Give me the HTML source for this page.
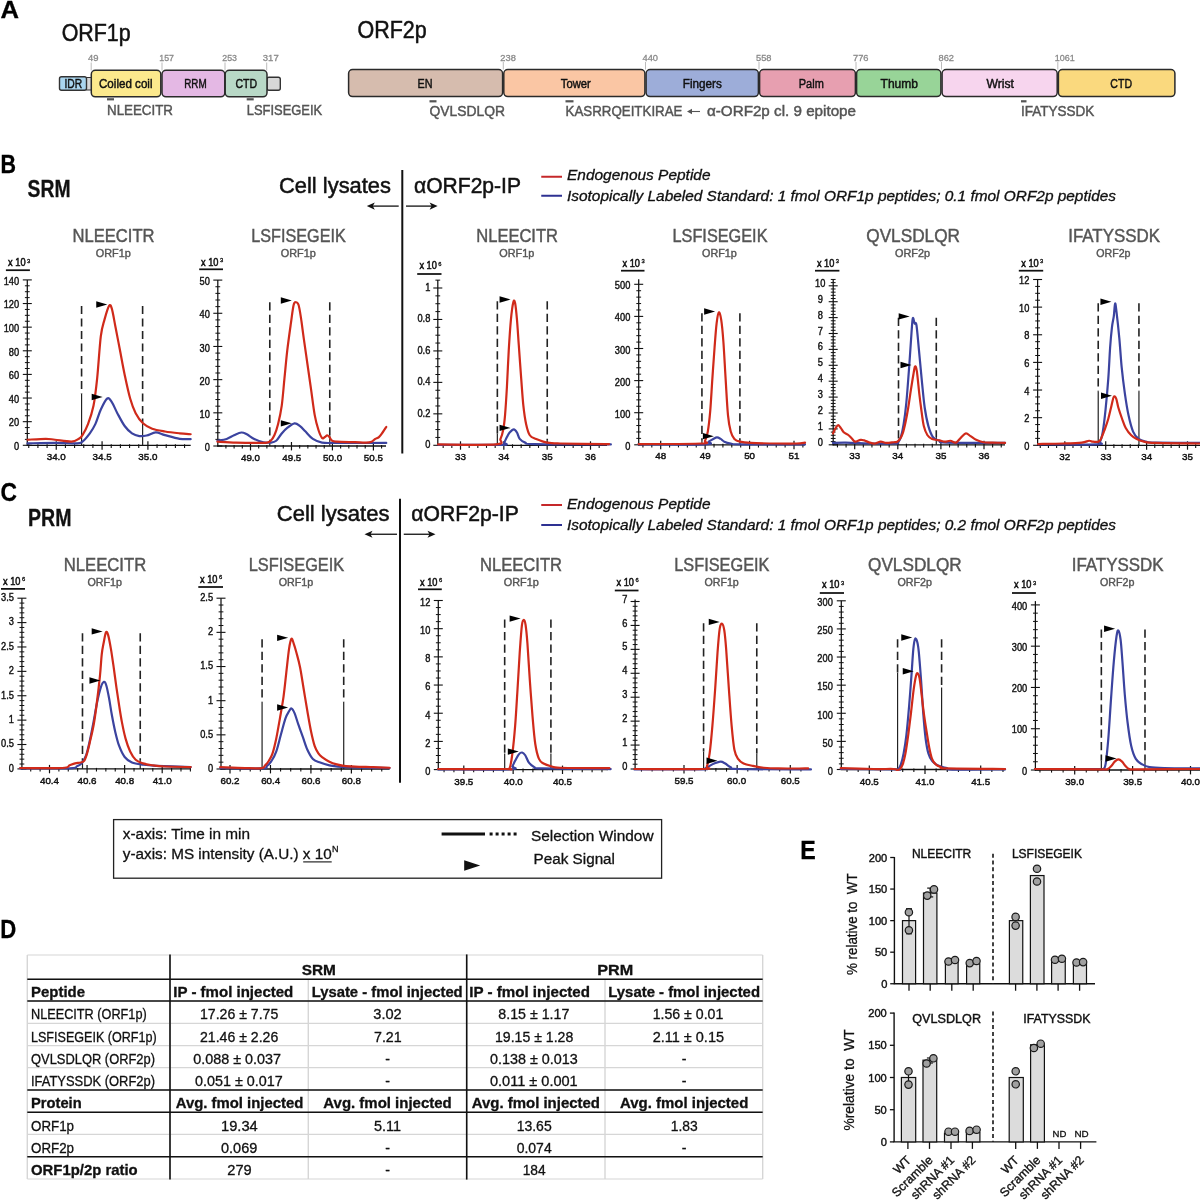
<!DOCTYPE html>
<html><head><meta charset="utf-8"><title>Figure</title>
<style>
html,body{margin:0;padding:0;background:#fff;}
svg{display:block;font-family:"Liberation Sans", sans-serif;will-change:transform;}
</style></head><body>
<svg width="1200" height="1200" viewBox="0 0 1200 1200">
<rect width="1200" height="1200" fill="#fff"/>
<text x="0.50" y="17.50" font-size="24.5" fill="#000" stroke="#000" stroke-width="0.3" font-weight="bold" textLength="18.50" lengthAdjust="spacingAndGlyphs">A</text>
<text x="61.70" y="40.80" font-size="23" fill="#111" stroke="#111" stroke-width="0.5" textLength="69.00" lengthAdjust="spacingAndGlyphs">ORF1p</text>
<text x="357.50" y="38.30" font-size="23" fill="#111" stroke="#111" stroke-width="0.5" textLength="69.20" lengthAdjust="spacingAndGlyphs">ORF2p</text>
<rect x="86.00" y="77.50" width="6.00" height="12.50" fill="#d8d8d8" stroke="#333" stroke-width="1.2" rx="1"/>
<rect x="59.50" y="76.80" width="27.00" height="13.50" fill="#a9d5ee" stroke="#333" stroke-width="1.4" rx="2"/>
<rect x="267.00" y="77.30" width="13.30" height="13.00" fill="#d8d8d8" stroke="#333" stroke-width="1.4" rx="2"/>
<rect x="91.30" y="70.30" width="69.50" height="26.50" fill="#fce98d" stroke="#2a2a2a" stroke-width="1.5" rx="4"/>
<rect x="162.00" y="70.30" width="62.80" height="26.50" fill="#e4b8e4" stroke="#2a2a2a" stroke-width="1.5" rx="4"/>
<rect x="225.20" y="70.30" width="41.80" height="26.50" fill="#b8d8c6" stroke="#2a2a2a" stroke-width="1.5" rx="4"/>
<text x="64.50" y="88.00" font-size="12.3" fill="#111" stroke="#111" stroke-width="0.45" textLength="17.70" lengthAdjust="spacingAndGlyphs">IDR</text>
<text x="99.00" y="88.00" font-size="12.3" fill="#111" stroke="#111" stroke-width="0.45" textLength="53.50" lengthAdjust="spacingAndGlyphs">Coiled coil</text>
<text x="184.20" y="87.60" font-size="12.3" fill="#111" stroke="#111" stroke-width="0.45" textLength="22.50" lengthAdjust="spacingAndGlyphs">RRM</text>
<text x="235.50" y="87.60" font-size="12.3" fill="#111" stroke="#111" stroke-width="0.45" textLength="21.70" lengthAdjust="spacingAndGlyphs">CTD</text>
<line x1="91.20" y1="62.50" x2="91.20" y2="70.50" stroke="#aaa" stroke-width="0.8"/>
<text x="88.00" y="60.80" font-size="9.3" fill="#8a8a8a" stroke="#8a8a8a" stroke-width="0.3" textLength="10.50" lengthAdjust="spacingAndGlyphs">49</text>
<line x1="162.00" y1="62.50" x2="162.00" y2="70.50" stroke="#aaa" stroke-width="0.8"/>
<text x="159.30" y="60.80" font-size="9.3" fill="#8a8a8a" stroke="#8a8a8a" stroke-width="0.3" textLength="14.70" lengthAdjust="spacingAndGlyphs">157</text>
<line x1="225.00" y1="62.50" x2="225.00" y2="70.50" stroke="#aaa" stroke-width="0.8"/>
<text x="222.30" y="60.80" font-size="9.3" fill="#8a8a8a" stroke="#8a8a8a" stroke-width="0.3" textLength="14.70" lengthAdjust="spacingAndGlyphs">253</text>
<line x1="266.70" y1="62.50" x2="266.70" y2="70.50" stroke="#aaa" stroke-width="0.8"/>
<text x="262.80" y="60.80" font-size="9.3" fill="#8a8a8a" stroke="#8a8a8a" stroke-width="0.3" textLength="15.90" lengthAdjust="spacingAndGlyphs">317</text>
<rect x="348.60" y="69.60" width="154.00" height="27.00" fill="#d6bcae" stroke="#2a2a2a" stroke-width="1.5" rx="4"/>
<text x="425.00" y="87.80" font-size="12.3" fill="#111" stroke="#111" stroke-width="0.45" text-anchor="middle" textLength="15.00" lengthAdjust="spacingAndGlyphs">EN</text>
<rect x="503.80" y="69.60" width="141.10" height="27.00" fill="#fac6a4" stroke="#2a2a2a" stroke-width="1.5" rx="4"/>
<text x="575.80" y="87.80" font-size="12.3" fill="#111" stroke="#111" stroke-width="0.45" text-anchor="middle" textLength="30.00" lengthAdjust="spacingAndGlyphs">Tower</text>
<rect x="646.10" y="69.60" width="112.30" height="27.00" fill="#9dadd9" stroke="#2a2a2a" stroke-width="1.5" rx="4"/>
<text x="702.30" y="87.80" font-size="12.3" fill="#111" stroke="#111" stroke-width="0.45" text-anchor="middle" textLength="39.00" lengthAdjust="spacingAndGlyphs">Fingers</text>
<rect x="759.60" y="69.60" width="95.80" height="27.00" fill="#e79fb0" stroke="#2a2a2a" stroke-width="1.5" rx="4"/>
<text x="811.30" y="87.80" font-size="12.3" fill="#111" stroke="#111" stroke-width="0.45" text-anchor="middle" textLength="25.00" lengthAdjust="spacingAndGlyphs">Palm</text>
<rect x="856.60" y="69.60" width="84.30" height="27.00" fill="#98d498" stroke="#2a2a2a" stroke-width="1.5" rx="4"/>
<text x="899.30" y="87.80" font-size="12.3" fill="#111" stroke="#111" stroke-width="0.45" text-anchor="middle" textLength="37.50" lengthAdjust="spacingAndGlyphs">Thumb</text>
<rect x="942.10" y="69.60" width="115.10" height="27.00" fill="#f7d5ee" stroke="#2a2a2a" stroke-width="1.5" rx="4"/>
<text x="1000.20" y="87.80" font-size="12.3" fill="#111" stroke="#111" stroke-width="0.45" text-anchor="middle" textLength="27.50" lengthAdjust="spacingAndGlyphs">Wrist</text>
<rect x="1058.40" y="69.60" width="116.50" height="27.00" fill="#fad97e" stroke="#2a2a2a" stroke-width="1.5" rx="4"/>
<text x="1121.20" y="87.80" font-size="12.3" fill="#111" stroke="#111" stroke-width="0.45" text-anchor="middle" textLength="21.70" lengthAdjust="spacingAndGlyphs">CTD</text>
<line x1="503.30" y1="62.00" x2="503.30" y2="69.60" stroke="#aaa" stroke-width="0.8"/>
<text x="500.30" y="60.80" font-size="9.3" fill="#8a8a8a" stroke="#8a8a8a" stroke-width="0.3" textLength="15.50" lengthAdjust="spacingAndGlyphs">238</text>
<line x1="645.50" y1="62.00" x2="645.50" y2="69.60" stroke="#aaa" stroke-width="0.8"/>
<text x="642.50" y="60.80" font-size="9.3" fill="#8a8a8a" stroke="#8a8a8a" stroke-width="0.3" textLength="15.50" lengthAdjust="spacingAndGlyphs">440</text>
<line x1="759.00" y1="62.00" x2="759.00" y2="69.60" stroke="#aaa" stroke-width="0.8"/>
<text x="756.00" y="60.80" font-size="9.3" fill="#8a8a8a" stroke="#8a8a8a" stroke-width="0.3" textLength="15.50" lengthAdjust="spacingAndGlyphs">558</text>
<line x1="856.00" y1="62.00" x2="856.00" y2="69.60" stroke="#aaa" stroke-width="0.8"/>
<text x="853.00" y="60.80" font-size="9.3" fill="#8a8a8a" stroke="#8a8a8a" stroke-width="0.3" textLength="15.50" lengthAdjust="spacingAndGlyphs">776</text>
<line x1="941.50" y1="62.00" x2="941.50" y2="69.60" stroke="#aaa" stroke-width="0.8"/>
<text x="938.50" y="60.80" font-size="9.3" fill="#8a8a8a" stroke="#8a8a8a" stroke-width="0.3" textLength="15.50" lengthAdjust="spacingAndGlyphs">862</text>
<line x1="1057.80" y1="62.00" x2="1057.80" y2="69.60" stroke="#aaa" stroke-width="0.8"/>
<text x="1054.80" y="60.80" font-size="9.3" fill="#8a8a8a" stroke="#8a8a8a" stroke-width="0.3" textLength="20.00" lengthAdjust="spacingAndGlyphs">1061</text>
<rect x="107.00" y="98.20" width="7.00" height="2.20" fill="#555" stroke="none" stroke-width="0" rx="0"/>
<text x="107.00" y="114.50" font-size="14.5" fill="#555" stroke="#555" stroke-width="0.45" textLength="66.00" lengthAdjust="spacingAndGlyphs">NLEECITR</text>
<rect x="246.70" y="98.20" width="7.00" height="2.20" fill="#555" stroke="none" stroke-width="0" rx="0"/>
<text x="246.70" y="114.50" font-size="14.5" fill="#555" stroke="#555" stroke-width="0.45" textLength="75.50" lengthAdjust="spacingAndGlyphs">LSFISEGEIK</text>
<rect x="429.50" y="100.20" width="7.00" height="2.20" fill="#555" stroke="none" stroke-width="0" rx="0"/>
<text x="429.50" y="116.30" font-size="14.5" fill="#555" stroke="#555" stroke-width="0.45" textLength="75.50" lengthAdjust="spacingAndGlyphs">QVLSDLQR</text>
<rect x="565.50" y="100.20" width="8.00" height="2.20" fill="#555" stroke="none" stroke-width="0" rx="0"/>
<text x="565.50" y="116.30" font-size="14.5" fill="#555" stroke="#555" stroke-width="0.45" textLength="117.00" lengthAdjust="spacingAndGlyphs">KASRRQEITKIRAE</text>
<rect x="1021.00" y="100.20" width="5.50" height="2.20" fill="#555" stroke="none" stroke-width="0" rx="0"/>
<text x="1021.00" y="116.30" font-size="14.5" fill="#555" stroke="#555" stroke-width="0.45" textLength="73.40" lengthAdjust="spacingAndGlyphs">IFATYSSDK</text>
<line x1="689.00" y1="111.50" x2="700.00" y2="111.50" stroke="#555" stroke-width="1.1"/>
<path d="M687 111.5 L692 108.8 L692 114.2 Z" fill="#555" stroke="none" stroke-width="1"/>
<text x="707.00" y="116.30" font-size="14.5" fill="#555" stroke="#555" stroke-width="0.45" textLength="149.00" lengthAdjust="spacingAndGlyphs">α-ORF2p cl. 9 epitope</text>
<text x="0.50" y="172.50" font-size="25" fill="#000" stroke="#000" stroke-width="0.3" font-weight="bold" textLength="15.50" lengthAdjust="spacingAndGlyphs">B</text>
<text x="27.50" y="197.00" font-size="24" fill="#111" stroke="#111" stroke-width="0.3" font-weight="bold" textLength="43.00" lengthAdjust="spacingAndGlyphs">SRM</text>
<text x="279.00" y="192.60" font-size="21.5" fill="#111" stroke="#111" stroke-width="0.5" textLength="112.00" lengthAdjust="spacingAndGlyphs">Cell lysates</text>
<text x="414.00" y="192.60" font-size="21.5" fill="#111" stroke="#111" stroke-width="0.5" textLength="107.00" lengthAdjust="spacingAndGlyphs">αORF2p-IP</text>
<line x1="402.30" y1="170.00" x2="402.30" y2="453.60" stroke="#111" stroke-width="2.0"/>
<line x1="369.80" y1="206.10" x2="398.70" y2="206.10" stroke="#111" stroke-width="1.3"/>
<path d="M366.80 206.10 L374.80 202.50 L372.80 206.10 L374.80 209.70 Z" fill="#111" stroke="none" stroke-width="1"/>
<line x1="406.00" y1="206.10" x2="434.60" y2="206.10" stroke="#111" stroke-width="1.3"/>
<path d="M437.60 206.10 L429.60 202.50 L431.60 206.10 L429.60 209.70 Z" fill="#111" stroke="none" stroke-width="1"/>
<line x1="541.25" y1="176.75" x2="562.00" y2="176.75" stroke="#c5282a" stroke-width="2.0"/>
<line x1="541.25" y1="195.75" x2="562.00" y2="195.75" stroke="#2e3192" stroke-width="2.0"/>
<text x="567.00" y="180.25" font-size="14" fill="#111" stroke="#111" stroke-width="0.3" font-style="italic" textLength="143.50" lengthAdjust="spacingAndGlyphs">Endogenous Peptide</text>
<text x="567.00" y="200.50" font-size="14" fill="#111" stroke="#111" stroke-width="0.3" font-style="italic" textLength="549.00" lengthAdjust="spacingAndGlyphs">Isotopically Labeled Standard: 1 fmol ORF1p peptides; 0.1 fmol ORF2p peptides</text>
<text x="0.50" y="500.50" font-size="25" fill="#000" stroke="#000" stroke-width="0.3" font-weight="bold" textLength="16.50" lengthAdjust="spacingAndGlyphs">C</text>
<text x="28.00" y="525.50" font-size="24" fill="#111" stroke="#111" stroke-width="0.3" font-weight="bold" textLength="43.50" lengthAdjust="spacingAndGlyphs">PRM</text>
<text x="276.75" y="521.25" font-size="21.5" fill="#111" stroke="#111" stroke-width="0.5" textLength="112.75" lengthAdjust="spacingAndGlyphs">Cell lysates</text>
<text x="411.25" y="521.25" font-size="21.5" fill="#111" stroke="#111" stroke-width="0.5" textLength="107.50" lengthAdjust="spacingAndGlyphs">αORF2p-IP</text>
<line x1="400.00" y1="498.75" x2="400.00" y2="782.80" stroke="#111" stroke-width="2.0"/>
<line x1="367.50" y1="534.25" x2="397.00" y2="534.25" stroke="#111" stroke-width="1.3"/>
<path d="M364.50 534.25 L372.50 530.65 L370.50 534.25 L372.50 537.85 Z" fill="#111" stroke="none" stroke-width="1"/>
<line x1="403.75" y1="534.25" x2="432.50" y2="534.25" stroke="#111" stroke-width="1.3"/>
<path d="M435.50 534.25 L427.50 530.65 L429.50 534.25 L427.50 537.85 Z" fill="#111" stroke="none" stroke-width="1"/>
<line x1="541.25" y1="505.00" x2="562.00" y2="505.00" stroke="#c5282a" stroke-width="2.0"/>
<line x1="541.25" y1="525.00" x2="562.00" y2="525.00" stroke="#2e3192" stroke-width="2.0"/>
<text x="567.00" y="508.50" font-size="14" fill="#111" stroke="#111" stroke-width="0.3" font-style="italic" textLength="143.50" lengthAdjust="spacingAndGlyphs">Endogenous Peptide</text>
<text x="567.00" y="529.75" font-size="14" fill="#111" stroke="#111" stroke-width="0.3" font-style="italic" textLength="549.00" lengthAdjust="spacingAndGlyphs">Isotopically Labeled Standard: 1 fmol ORF1p peptides; 0.2 fmol ORF2p peptides</text>
<text x="72.50" y="242.00" font-size="18.5" fill="#555" stroke="#555" stroke-width="0.45" textLength="82.00" lengthAdjust="spacingAndGlyphs">NLEECITR</text>
<text x="95.75" y="257.00" font-size="10.6" fill="#555" stroke="#555" stroke-width="0.4" textLength="35.00" lengthAdjust="spacingAndGlyphs">ORF1p</text>
<text x="8.10" y="266.30" font-size="10.2" fill="#111" stroke="#111" stroke-width="0.5" textLength="17.50" lengthAdjust="spacingAndGlyphs">x 10</text>
<text x="27.00" y="262.70" font-size="5.8" fill="#111" stroke="#111" stroke-width="0.3">3</text>
<line x1="5.90" y1="270.20" x2="29.90" y2="270.20" stroke="#111" stroke-width="1.75"/>
<line x1="27.30" y1="279.90" x2="27.30" y2="445.80" stroke="#111" stroke-width="1.25"/>
<line x1="22.80" y1="445.30" x2="31.80" y2="445.30" stroke="#111" stroke-width="1.1"/>
<line x1="24.90" y1="439.39" x2="29.70" y2="439.39" stroke="#111" stroke-width="1.0"/>
<line x1="24.90" y1="433.49" x2="29.70" y2="433.49" stroke="#111" stroke-width="1.0"/>
<line x1="24.90" y1="427.58" x2="29.70" y2="427.58" stroke="#111" stroke-width="1.0"/>
<line x1="22.80" y1="421.67" x2="31.80" y2="421.67" stroke="#111" stroke-width="1.1"/>
<line x1="24.90" y1="415.76" x2="29.70" y2="415.76" stroke="#111" stroke-width="1.0"/>
<line x1="24.90" y1="409.86" x2="29.70" y2="409.86" stroke="#111" stroke-width="1.0"/>
<line x1="24.90" y1="403.95" x2="29.70" y2="403.95" stroke="#111" stroke-width="1.0"/>
<line x1="22.80" y1="398.04" x2="31.80" y2="398.04" stroke="#111" stroke-width="1.1"/>
<line x1="24.90" y1="392.14" x2="29.70" y2="392.14" stroke="#111" stroke-width="1.0"/>
<line x1="24.90" y1="386.23" x2="29.70" y2="386.23" stroke="#111" stroke-width="1.0"/>
<line x1="24.90" y1="380.32" x2="29.70" y2="380.32" stroke="#111" stroke-width="1.0"/>
<line x1="22.80" y1="374.41" x2="31.80" y2="374.41" stroke="#111" stroke-width="1.1"/>
<line x1="24.90" y1="368.51" x2="29.70" y2="368.51" stroke="#111" stroke-width="1.0"/>
<line x1="24.90" y1="362.60" x2="29.70" y2="362.60" stroke="#111" stroke-width="1.0"/>
<line x1="24.90" y1="356.69" x2="29.70" y2="356.69" stroke="#111" stroke-width="1.0"/>
<line x1="22.80" y1="350.79" x2="31.80" y2="350.79" stroke="#111" stroke-width="1.1"/>
<line x1="24.90" y1="344.88" x2="29.70" y2="344.88" stroke="#111" stroke-width="1.0"/>
<line x1="24.90" y1="338.97" x2="29.70" y2="338.97" stroke="#111" stroke-width="1.0"/>
<line x1="24.90" y1="333.06" x2="29.70" y2="333.06" stroke="#111" stroke-width="1.0"/>
<line x1="22.80" y1="327.16" x2="31.80" y2="327.16" stroke="#111" stroke-width="1.1"/>
<line x1="24.90" y1="321.25" x2="29.70" y2="321.25" stroke="#111" stroke-width="1.0"/>
<line x1="24.90" y1="315.34" x2="29.70" y2="315.34" stroke="#111" stroke-width="1.0"/>
<line x1="24.90" y1="309.44" x2="29.70" y2="309.44" stroke="#111" stroke-width="1.0"/>
<line x1="22.80" y1="303.53" x2="31.80" y2="303.53" stroke="#111" stroke-width="1.1"/>
<line x1="24.90" y1="297.62" x2="29.70" y2="297.62" stroke="#111" stroke-width="1.0"/>
<line x1="24.90" y1="291.71" x2="29.70" y2="291.71" stroke="#111" stroke-width="1.0"/>
<line x1="24.90" y1="285.81" x2="29.70" y2="285.81" stroke="#111" stroke-width="1.0"/>
<line x1="22.80" y1="279.90" x2="31.80" y2="279.90" stroke="#111" stroke-width="1.1"/>
<text x="19.10" y="450.10" font-size="10.3" fill="#111" stroke="#111" stroke-width="0.4" text-anchor="end" textLength="5.15" lengthAdjust="spacingAndGlyphs">0</text>
<text x="19.10" y="426.47" font-size="10.3" fill="#111" stroke="#111" stroke-width="0.4" text-anchor="end" textLength="10.31" lengthAdjust="spacingAndGlyphs">20</text>
<text x="19.10" y="402.84" font-size="10.3" fill="#111" stroke="#111" stroke-width="0.4" text-anchor="end" textLength="10.31" lengthAdjust="spacingAndGlyphs">40</text>
<text x="19.10" y="379.21" font-size="10.3" fill="#111" stroke="#111" stroke-width="0.4" text-anchor="end" textLength="10.31" lengthAdjust="spacingAndGlyphs">60</text>
<text x="19.10" y="355.59" font-size="10.3" fill="#111" stroke="#111" stroke-width="0.4" text-anchor="end" textLength="10.31" lengthAdjust="spacingAndGlyphs">80</text>
<text x="19.10" y="331.96" font-size="10.3" fill="#111" stroke="#111" stroke-width="0.4" text-anchor="end" textLength="15.46" lengthAdjust="spacingAndGlyphs">100</text>
<text x="19.10" y="308.33" font-size="10.3" fill="#111" stroke="#111" stroke-width="0.4" text-anchor="end" textLength="15.46" lengthAdjust="spacingAndGlyphs">120</text>
<text x="19.10" y="284.70" font-size="10.3" fill="#111" stroke="#111" stroke-width="0.4" text-anchor="end" textLength="15.46" lengthAdjust="spacingAndGlyphs">140</text>
<line x1="26.70" y1="445.30" x2="190.70" y2="445.30" stroke="#111" stroke-width="1.3"/>
<line x1="28.75" y1="444.30" x2="28.75" y2="447.90" stroke="#111" stroke-width="1.1"/>
<line x1="37.92" y1="444.30" x2="37.92" y2="447.90" stroke="#111" stroke-width="1.1"/>
<line x1="47.09" y1="444.30" x2="47.09" y2="447.90" stroke="#111" stroke-width="1.1"/>
<line x1="56.25" y1="441.30" x2="56.25" y2="449.70" stroke="#111" stroke-width="1.2"/>
<line x1="65.42" y1="444.30" x2="65.42" y2="447.90" stroke="#111" stroke-width="1.1"/>
<line x1="74.58" y1="444.30" x2="74.58" y2="447.90" stroke="#111" stroke-width="1.1"/>
<line x1="83.75" y1="444.30" x2="83.75" y2="447.90" stroke="#111" stroke-width="1.1"/>
<line x1="92.91" y1="444.30" x2="92.91" y2="447.90" stroke="#111" stroke-width="1.1"/>
<line x1="102.08" y1="441.30" x2="102.08" y2="449.70" stroke="#111" stroke-width="1.2"/>
<line x1="111.24" y1="444.30" x2="111.24" y2="447.90" stroke="#111" stroke-width="1.1"/>
<line x1="120.41" y1="444.30" x2="120.41" y2="447.90" stroke="#111" stroke-width="1.1"/>
<line x1="129.57" y1="444.30" x2="129.57" y2="447.90" stroke="#111" stroke-width="1.1"/>
<line x1="138.74" y1="444.30" x2="138.74" y2="447.90" stroke="#111" stroke-width="1.1"/>
<line x1="147.90" y1="441.30" x2="147.90" y2="449.70" stroke="#111" stroke-width="1.2"/>
<line x1="157.06" y1="444.30" x2="157.06" y2="447.90" stroke="#111" stroke-width="1.1"/>
<line x1="166.23" y1="444.30" x2="166.23" y2="447.90" stroke="#111" stroke-width="1.1"/>
<line x1="175.40" y1="444.30" x2="175.40" y2="447.90" stroke="#111" stroke-width="1.1"/>
<line x1="184.56" y1="444.30" x2="184.56" y2="447.90" stroke="#111" stroke-width="1.1"/>
<text x="56.25" y="459.80" font-size="9.8" fill="#111" stroke="#111" stroke-width="0.45" text-anchor="middle">34.0</text>
<text x="102.10" y="459.80" font-size="9.8" fill="#111" stroke="#111" stroke-width="0.45" text-anchor="middle">34.5</text>
<text x="147.90" y="459.80" font-size="9.8" fill="#111" stroke="#111" stroke-width="0.45" text-anchor="middle">35.0</text>
<line x1="81.58" y1="305.91" x2="81.58" y2="393.90" stroke="#222" stroke-width="1.6" stroke-dasharray="8.2 4.3"/>
<line x1="81.58" y1="393.90" x2="81.58" y2="445.30" stroke="#222" stroke-width="1.2"/>
<line x1="142.62" y1="305.91" x2="142.62" y2="422.32" stroke="#222" stroke-width="1.6" stroke-dasharray="8.2 4.3"/>
<line x1="142.62" y1="422.32" x2="142.62" y2="445.30" stroke="#222" stroke-width="1.2"/>
<path d="M27.50 443.40 C32.08 443.31 46.75 442.85 55.00 442.85 C63.24 442.85 72.41 443.61 76.99 443.40 C81.58 443.19 80.35 443.25 82.49 441.57 C84.63 439.89 87.69 436.22 89.83 433.32 C91.96 430.42 93.49 428.12 95.33 424.15 C97.16 420.18 98.84 413.76 100.82 409.49 C102.81 405.21 105.41 399.71 107.24 398.49 C109.07 397.27 110.14 399.71 111.82 402.15 C113.50 404.60 115.18 409.18 117.32 413.15 C119.46 417.12 122.21 422.62 124.66 425.99 C127.10 429.35 129.54 431.64 131.99 433.32 C134.43 435.00 136.88 435.70 139.32 436.07 C141.77 436.43 143.90 436.13 146.65 435.52 C149.40 434.91 152.77 432.46 155.82 432.40 C158.88 432.34 161.01 434.08 164.99 435.15 C168.96 436.22 175.37 438.15 179.65 438.82 C183.93 439.49 188.82 439.12 190.65 439.18" fill="none" stroke="#3b439f" stroke-width="2.2" stroke-linejoin="round" stroke-linecap="round"/>
<path d="M27.50 439.73 C30.55 439.58 41.25 438.82 45.83 438.82 C50.41 438.82 50.72 439.28 55.00 439.73 C59.27 440.19 67.52 441.72 71.49 441.57 C75.47 441.41 76.99 439.89 78.83 438.82 C80.66 437.75 80.97 437.60 82.49 435.15 C84.02 432.71 86.16 429.04 87.99 424.15 C89.83 419.26 91.96 413.46 93.49 405.82 C95.02 398.18 95.94 389.93 97.16 378.32 C98.38 366.71 99.60 345.94 100.82 336.16 C102.05 326.38 103.12 324.70 104.49 319.66 C105.87 314.62 107.85 307.75 109.07 305.91 C110.30 304.08 110.75 305.15 111.82 308.66 C112.89 312.18 114.12 319.97 115.49 326.99 C116.87 334.02 118.55 342.88 120.07 350.82 C121.60 358.77 122.98 366.71 124.66 374.66 C126.34 382.60 128.32 392.07 130.16 398.49 C131.99 404.90 133.52 409.03 135.66 413.15 C137.79 417.28 140.24 420.64 142.99 423.24 C145.74 425.83 148.49 427.36 152.15 428.74 C155.82 430.11 160.40 430.72 164.99 431.48 C169.57 432.25 175.37 432.86 179.65 433.32 C183.93 433.78 188.82 434.08 190.65 434.23" fill="none" stroke="#d02a1a" stroke-width="2.2" stroke-linejoin="round" stroke-linecap="round"/>
<path d="M107.24 304.45 L96.24 301.25 L96.24 307.65 Z" fill="#000" stroke="none" stroke-width="1"/>
<path d="M102.66 397.02 L91.66 393.82 L91.66 400.22 Z" fill="#000" stroke="none" stroke-width="1"/>
<text x="251.25" y="242.00" font-size="18.5" fill="#555" stroke="#555" stroke-width="0.45" textLength="94.50" lengthAdjust="spacingAndGlyphs">LSFISEGEIK</text>
<text x="280.75" y="257.00" font-size="10.6" fill="#555" stroke="#555" stroke-width="0.4" textLength="35.00" lengthAdjust="spacingAndGlyphs">ORF1p</text>
<text x="201.00" y="265.60" font-size="10.2" fill="#111" stroke="#111" stroke-width="0.5" textLength="17.50" lengthAdjust="spacingAndGlyphs">x 10</text>
<text x="219.90" y="262.00" font-size="5.8" fill="#111" stroke="#111" stroke-width="0.3">3</text>
<line x1="199.20" y1="269.30" x2="223.00" y2="269.30" stroke="#111" stroke-width="1.75"/>
<line x1="217.80" y1="280.10" x2="217.80" y2="446.50" stroke="#111" stroke-width="1.25"/>
<line x1="213.30" y1="446.00" x2="222.30" y2="446.00" stroke="#111" stroke-width="1.1"/>
<line x1="215.40" y1="439.36" x2="220.20" y2="439.36" stroke="#111" stroke-width="1.0"/>
<line x1="215.40" y1="432.73" x2="220.20" y2="432.73" stroke="#111" stroke-width="1.0"/>
<line x1="215.40" y1="426.09" x2="220.20" y2="426.09" stroke="#111" stroke-width="1.0"/>
<line x1="215.40" y1="419.46" x2="220.20" y2="419.46" stroke="#111" stroke-width="1.0"/>
<line x1="213.30" y1="412.82" x2="222.30" y2="412.82" stroke="#111" stroke-width="1.1"/>
<line x1="215.40" y1="406.18" x2="220.20" y2="406.18" stroke="#111" stroke-width="1.0"/>
<line x1="215.40" y1="399.55" x2="220.20" y2="399.55" stroke="#111" stroke-width="1.0"/>
<line x1="215.40" y1="392.91" x2="220.20" y2="392.91" stroke="#111" stroke-width="1.0"/>
<line x1="215.40" y1="386.28" x2="220.20" y2="386.28" stroke="#111" stroke-width="1.0"/>
<line x1="213.30" y1="379.64" x2="222.30" y2="379.64" stroke="#111" stroke-width="1.1"/>
<line x1="215.40" y1="373.00" x2="220.20" y2="373.00" stroke="#111" stroke-width="1.0"/>
<line x1="215.40" y1="366.37" x2="220.20" y2="366.37" stroke="#111" stroke-width="1.0"/>
<line x1="215.40" y1="359.73" x2="220.20" y2="359.73" stroke="#111" stroke-width="1.0"/>
<line x1="215.40" y1="353.10" x2="220.20" y2="353.10" stroke="#111" stroke-width="1.0"/>
<line x1="213.30" y1="346.46" x2="222.30" y2="346.46" stroke="#111" stroke-width="1.1"/>
<line x1="215.40" y1="339.82" x2="220.20" y2="339.82" stroke="#111" stroke-width="1.0"/>
<line x1="215.40" y1="333.19" x2="220.20" y2="333.19" stroke="#111" stroke-width="1.0"/>
<line x1="215.40" y1="326.55" x2="220.20" y2="326.55" stroke="#111" stroke-width="1.0"/>
<line x1="215.40" y1="319.92" x2="220.20" y2="319.92" stroke="#111" stroke-width="1.0"/>
<line x1="213.30" y1="313.28" x2="222.30" y2="313.28" stroke="#111" stroke-width="1.1"/>
<line x1="215.40" y1="306.64" x2="220.20" y2="306.64" stroke="#111" stroke-width="1.0"/>
<line x1="215.40" y1="300.01" x2="220.20" y2="300.01" stroke="#111" stroke-width="1.0"/>
<line x1="215.40" y1="293.37" x2="220.20" y2="293.37" stroke="#111" stroke-width="1.0"/>
<line x1="215.40" y1="286.74" x2="220.20" y2="286.74" stroke="#111" stroke-width="1.0"/>
<line x1="213.30" y1="280.10" x2="222.30" y2="280.10" stroke="#111" stroke-width="1.1"/>
<text x="209.80" y="451.20" font-size="10.3" fill="#111" stroke="#111" stroke-width="0.4" text-anchor="end" textLength="5.15" lengthAdjust="spacingAndGlyphs">0</text>
<text x="209.80" y="418.02" font-size="10.3" fill="#111" stroke="#111" stroke-width="0.4" text-anchor="end" textLength="10.31" lengthAdjust="spacingAndGlyphs">10</text>
<text x="209.80" y="384.84" font-size="10.3" fill="#111" stroke="#111" stroke-width="0.4" text-anchor="end" textLength="10.31" lengthAdjust="spacingAndGlyphs">20</text>
<text x="209.80" y="351.66" font-size="10.3" fill="#111" stroke="#111" stroke-width="0.4" text-anchor="end" textLength="10.31" lengthAdjust="spacingAndGlyphs">30</text>
<text x="209.80" y="318.48" font-size="10.3" fill="#111" stroke="#111" stroke-width="0.4" text-anchor="end" textLength="10.31" lengthAdjust="spacingAndGlyphs">40</text>
<text x="209.80" y="285.30" font-size="10.3" fill="#111" stroke="#111" stroke-width="0.4" text-anchor="end" textLength="10.31" lengthAdjust="spacingAndGlyphs">50</text>
<line x1="217.20" y1="446.00" x2="386.00" y2="446.00" stroke="#111" stroke-width="1.3"/>
<line x1="225.92" y1="445.00" x2="225.92" y2="448.60" stroke="#111" stroke-width="1.1"/>
<line x1="234.11" y1="445.00" x2="234.11" y2="448.60" stroke="#111" stroke-width="1.1"/>
<line x1="242.31" y1="445.00" x2="242.31" y2="448.60" stroke="#111" stroke-width="1.1"/>
<line x1="250.50" y1="442.00" x2="250.50" y2="450.40" stroke="#111" stroke-width="1.2"/>
<line x1="258.69" y1="445.00" x2="258.69" y2="448.60" stroke="#111" stroke-width="1.1"/>
<line x1="266.89" y1="445.00" x2="266.89" y2="448.60" stroke="#111" stroke-width="1.1"/>
<line x1="275.08" y1="445.00" x2="275.08" y2="448.60" stroke="#111" stroke-width="1.1"/>
<line x1="283.27" y1="445.00" x2="283.27" y2="448.60" stroke="#111" stroke-width="1.1"/>
<line x1="291.47" y1="442.00" x2="291.47" y2="450.40" stroke="#111" stroke-width="1.2"/>
<line x1="299.66" y1="445.00" x2="299.66" y2="448.60" stroke="#111" stroke-width="1.1"/>
<line x1="307.85" y1="445.00" x2="307.85" y2="448.60" stroke="#111" stroke-width="1.1"/>
<line x1="316.05" y1="445.00" x2="316.05" y2="448.60" stroke="#111" stroke-width="1.1"/>
<line x1="324.24" y1="445.00" x2="324.24" y2="448.60" stroke="#111" stroke-width="1.1"/>
<line x1="332.43" y1="442.00" x2="332.43" y2="450.40" stroke="#111" stroke-width="1.2"/>
<line x1="340.63" y1="445.00" x2="340.63" y2="448.60" stroke="#111" stroke-width="1.1"/>
<line x1="348.82" y1="445.00" x2="348.82" y2="448.60" stroke="#111" stroke-width="1.1"/>
<line x1="357.01" y1="445.00" x2="357.01" y2="448.60" stroke="#111" stroke-width="1.1"/>
<line x1="365.21" y1="445.00" x2="365.21" y2="448.60" stroke="#111" stroke-width="1.1"/>
<line x1="373.40" y1="442.00" x2="373.40" y2="450.40" stroke="#111" stroke-width="1.2"/>
<line x1="381.59" y1="445.00" x2="381.59" y2="448.60" stroke="#111" stroke-width="1.1"/>
<text x="250.50" y="460.50" font-size="9.8" fill="#111" stroke="#111" stroke-width="0.45" text-anchor="middle">49.0</text>
<text x="291.80" y="460.50" font-size="9.8" fill="#111" stroke="#111" stroke-width="0.45" text-anchor="middle">49.5</text>
<text x="332.60" y="460.50" font-size="9.8" fill="#111" stroke="#111" stroke-width="0.45" text-anchor="middle">50.0</text>
<text x="373.40" y="460.50" font-size="9.8" fill="#111" stroke="#111" stroke-width="0.45" text-anchor="middle">50.5</text>
<line x1="269.79" y1="302.27" x2="269.79" y2="440.76" stroke="#222" stroke-width="1.6" stroke-dasharray="8.2 4.3"/>
<line x1="269.79" y1="440.76" x2="269.79" y2="446.00" stroke="#222" stroke-width="1.2"/>
<line x1="329.77" y1="302.27" x2="329.77" y2="435.25" stroke="#222" stroke-width="1.6" stroke-dasharray="8.2 4.3"/>
<line x1="329.77" y1="435.25" x2="329.77" y2="446.00" stroke="#222" stroke-width="1.2"/>
<path d="M217.51 440.76 C219.04 440.45 223.93 439.84 226.68 438.92 C229.44 438.00 231.57 436.32 234.02 435.25 C236.47 434.18 239.22 432.65 241.36 432.50 C243.50 432.35 244.72 433.27 246.86 434.34 C249.00 435.41 251.45 437.61 254.20 438.92 C256.95 440.24 260.62 441.61 263.37 442.22 C266.12 442.83 268.56 442.83 270.70 442.59 C272.84 442.35 274.37 442.28 276.21 440.76 C278.04 439.23 279.88 435.56 281.71 433.42 C283.54 431.28 285.07 429.60 287.21 427.92 C289.35 426.24 292.41 423.64 294.55 423.33 C296.69 423.03 298.22 424.71 300.05 426.08 C301.89 427.46 303.41 429.44 305.55 431.58 C307.69 433.72 310.14 437.09 312.89 438.92 C315.64 440.76 318.09 441.92 322.06 442.59 C326.04 443.26 326.04 442.90 336.74 442.96 C347.43 443.02 378.00 442.96 386.26 442.96" fill="none" stroke="#3b439f" stroke-width="2.2" stroke-linejoin="round" stroke-linecap="round"/>
<path d="M217.51 441.67 C220.57 441.83 229.74 442.38 235.85 442.59 C241.97 442.80 249.00 442.96 254.20 442.96 C259.39 442.96 264.28 442.96 267.04 442.59 C269.79 442.22 269.48 441.98 270.70 440.76 C271.93 439.53 273.15 438.00 274.37 435.25 C275.60 432.50 276.82 429.14 278.04 424.25 C279.26 419.36 280.64 413.55 281.71 405.91 C282.78 398.26 283.54 387.56 284.46 378.39 C285.38 369.22 286.14 360.05 287.21 350.88 C288.28 341.71 289.81 331.01 290.88 323.37 C291.95 315.73 292.78 308.54 293.63 305.03 C294.49 301.51 295.19 302.27 296.02 302.27 C296.84 302.27 297.76 302.43 298.58 305.03 C299.41 307.62 300.11 312.36 300.97 317.87 C301.82 323.37 302.65 330.40 303.72 338.04 C304.79 345.68 306.17 355.16 307.39 363.72 C308.61 372.28 309.83 380.84 311.06 389.40 C312.28 397.96 313.50 408.35 314.72 415.08 C315.95 421.80 317.17 425.93 318.39 429.75 C319.62 433.57 320.99 436.78 322.06 438.00 C323.13 439.23 323.96 437.55 324.81 437.09 C325.67 436.63 326.43 435.25 327.20 435.25 C327.96 435.25 328.57 436.17 329.40 437.09 C330.22 438.00 330.93 439.99 332.15 440.76 C333.37 441.52 332.91 441.43 336.74 441.67 C340.56 441.92 350.19 442.07 355.08 442.22 C359.97 442.38 363.33 442.68 366.08 442.59 C368.83 442.50 370.06 442.28 371.58 441.67 C373.11 441.06 374.03 439.69 375.25 438.92 C376.48 438.16 377.70 438.16 378.92 437.09 C380.14 436.02 381.37 434.18 382.59 432.50 C383.81 430.82 385.65 427.92 386.26 427.00" fill="none" stroke="#d02a1a" stroke-width="2.2" stroke-linejoin="round" stroke-linecap="round"/>
<path d="M291.80 300.44 L280.80 297.24 L280.80 303.64 Z" fill="#000" stroke="none" stroke-width="1"/>
<path d="M291.80 423.33 L280.80 420.13 L280.80 426.53 Z" fill="#000" stroke="none" stroke-width="1"/>
<text x="476.25" y="242.00" font-size="18.5" fill="#555" stroke="#555" stroke-width="0.45" textLength="81.75" lengthAdjust="spacingAndGlyphs">NLEECITR</text>
<text x="499.25" y="257.00" font-size="10.6" fill="#555" stroke="#555" stroke-width="0.4" textLength="35.00" lengthAdjust="spacingAndGlyphs">ORF1p</text>
<text x="419.40" y="269.30" font-size="10.2" fill="#111" stroke="#111" stroke-width="0.5" textLength="17.50" lengthAdjust="spacingAndGlyphs">x 10</text>
<text x="438.30" y="265.70" font-size="5.8" fill="#111" stroke="#111" stroke-width="0.3">6</text>
<line x1="417.20" y1="274.00" x2="441.50" y2="274.00" stroke="#111" stroke-width="1.75"/>
<line x1="437.80" y1="280.10" x2="437.80" y2="445.80" stroke="#111" stroke-width="1.25"/>
<line x1="433.30" y1="445.30" x2="442.30" y2="445.30" stroke="#111" stroke-width="1.1"/>
<line x1="435.40" y1="437.44" x2="440.20" y2="437.44" stroke="#111" stroke-width="1.0"/>
<line x1="435.40" y1="429.57" x2="440.20" y2="429.57" stroke="#111" stroke-width="1.0"/>
<line x1="435.40" y1="421.70" x2="440.20" y2="421.70" stroke="#111" stroke-width="1.0"/>
<line x1="433.30" y1="413.84" x2="442.30" y2="413.84" stroke="#111" stroke-width="1.1"/>
<line x1="435.40" y1="405.98" x2="440.20" y2="405.98" stroke="#111" stroke-width="1.0"/>
<line x1="435.40" y1="398.11" x2="440.20" y2="398.11" stroke="#111" stroke-width="1.0"/>
<line x1="435.40" y1="390.25" x2="440.20" y2="390.25" stroke="#111" stroke-width="1.0"/>
<line x1="433.30" y1="382.38" x2="442.30" y2="382.38" stroke="#111" stroke-width="1.1"/>
<line x1="435.40" y1="374.51" x2="440.20" y2="374.51" stroke="#111" stroke-width="1.0"/>
<line x1="435.40" y1="366.65" x2="440.20" y2="366.65" stroke="#111" stroke-width="1.0"/>
<line x1="435.40" y1="358.78" x2="440.20" y2="358.78" stroke="#111" stroke-width="1.0"/>
<line x1="433.30" y1="350.92" x2="442.30" y2="350.92" stroke="#111" stroke-width="1.1"/>
<line x1="435.40" y1="343.06" x2="440.20" y2="343.06" stroke="#111" stroke-width="1.0"/>
<line x1="435.40" y1="335.19" x2="440.20" y2="335.19" stroke="#111" stroke-width="1.0"/>
<line x1="435.40" y1="327.32" x2="440.20" y2="327.32" stroke="#111" stroke-width="1.0"/>
<line x1="433.30" y1="319.46" x2="442.30" y2="319.46" stroke="#111" stroke-width="1.1"/>
<line x1="435.40" y1="311.60" x2="440.20" y2="311.60" stroke="#111" stroke-width="1.0"/>
<line x1="435.40" y1="303.73" x2="440.20" y2="303.73" stroke="#111" stroke-width="1.0"/>
<line x1="435.40" y1="295.87" x2="440.20" y2="295.87" stroke="#111" stroke-width="1.0"/>
<line x1="433.30" y1="288.00" x2="442.30" y2="288.00" stroke="#111" stroke-width="1.1"/>
<line x1="435.40" y1="280.13" x2="440.20" y2="280.13" stroke="#111" stroke-width="1.0"/>
<text x="430.30" y="448.30" font-size="10.3" fill="#111" stroke="#111" stroke-width="0.4" text-anchor="end" textLength="5.15" lengthAdjust="spacingAndGlyphs">0</text>
<text x="430.30" y="416.84" font-size="10.3" fill="#111" stroke="#111" stroke-width="0.4" text-anchor="end" textLength="12.89" lengthAdjust="spacingAndGlyphs">0.2</text>
<text x="430.30" y="385.38" font-size="10.3" fill="#111" stroke="#111" stroke-width="0.4" text-anchor="end" textLength="12.89" lengthAdjust="spacingAndGlyphs">0.4</text>
<text x="430.30" y="353.92" font-size="10.3" fill="#111" stroke="#111" stroke-width="0.4" text-anchor="end" textLength="12.89" lengthAdjust="spacingAndGlyphs">0.6</text>
<text x="430.30" y="322.46" font-size="10.3" fill="#111" stroke="#111" stroke-width="0.4" text-anchor="end" textLength="12.89" lengthAdjust="spacingAndGlyphs">0.8</text>
<text x="430.30" y="291.00" font-size="10.3" fill="#111" stroke="#111" stroke-width="0.4" text-anchor="end" textLength="5.15" lengthAdjust="spacingAndGlyphs">1</text>
<line x1="437.20" y1="445.30" x2="607.00" y2="445.30" stroke="#111" stroke-width="1.3"/>
<line x1="443.17" y1="444.30" x2="443.17" y2="447.90" stroke="#111" stroke-width="1.1"/>
<line x1="451.83" y1="444.30" x2="451.83" y2="447.90" stroke="#111" stroke-width="1.1"/>
<line x1="460.50" y1="441.30" x2="460.50" y2="449.70" stroke="#111" stroke-width="1.2"/>
<line x1="469.17" y1="444.30" x2="469.17" y2="447.90" stroke="#111" stroke-width="1.1"/>
<line x1="477.83" y1="444.30" x2="477.83" y2="447.90" stroke="#111" stroke-width="1.1"/>
<line x1="486.50" y1="444.30" x2="486.50" y2="447.90" stroke="#111" stroke-width="1.1"/>
<line x1="495.17" y1="444.30" x2="495.17" y2="447.90" stroke="#111" stroke-width="1.1"/>
<line x1="503.83" y1="441.30" x2="503.83" y2="449.70" stroke="#111" stroke-width="1.2"/>
<line x1="512.50" y1="444.30" x2="512.50" y2="447.90" stroke="#111" stroke-width="1.1"/>
<line x1="521.17" y1="444.30" x2="521.17" y2="447.90" stroke="#111" stroke-width="1.1"/>
<line x1="529.83" y1="444.30" x2="529.83" y2="447.90" stroke="#111" stroke-width="1.1"/>
<line x1="538.50" y1="444.30" x2="538.50" y2="447.90" stroke="#111" stroke-width="1.1"/>
<line x1="547.17" y1="441.30" x2="547.17" y2="449.70" stroke="#111" stroke-width="1.2"/>
<line x1="555.83" y1="444.30" x2="555.83" y2="447.90" stroke="#111" stroke-width="1.1"/>
<line x1="564.50" y1="444.30" x2="564.50" y2="447.90" stroke="#111" stroke-width="1.1"/>
<line x1="573.17" y1="444.30" x2="573.17" y2="447.90" stroke="#111" stroke-width="1.1"/>
<line x1="581.83" y1="444.30" x2="581.83" y2="447.90" stroke="#111" stroke-width="1.1"/>
<line x1="590.50" y1="441.30" x2="590.50" y2="449.70" stroke="#111" stroke-width="1.2"/>
<line x1="599.17" y1="444.30" x2="599.17" y2="447.90" stroke="#111" stroke-width="1.1"/>
<text x="460.50" y="459.80" font-size="9.8" fill="#111" stroke="#111" stroke-width="0.45" text-anchor="middle">33</text>
<text x="503.80" y="459.80" font-size="9.8" fill="#111" stroke="#111" stroke-width="0.45" text-anchor="middle">34</text>
<text x="547.20" y="459.80" font-size="9.8" fill="#111" stroke="#111" stroke-width="0.45" text-anchor="middle">35</text>
<text x="590.50" y="459.80" font-size="9.8" fill="#111" stroke="#111" stroke-width="0.45" text-anchor="middle">36</text>
<line x1="497.35" y1="301.36" x2="497.35" y2="433.42" stroke="#222" stroke-width="1.6" stroke-dasharray="8.2 4.3"/>
<line x1="497.35" y1="433.42" x2="497.35" y2="445.30" stroke="#222" stroke-width="1.2"/>
<line x1="547.24" y1="301.36" x2="547.24" y2="440.76" stroke="#222" stroke-width="1.6" stroke-dasharray="8.2 4.3"/>
<line x1="547.24" y1="440.76" x2="547.24" y2="445.30" stroke="#222" stroke-width="1.2"/>
<path d="M438.10 444.79 C448.65 444.79 490.38 445.16 501.38 444.79 C512.39 444.42 503.22 443.87 504.13 442.59 C505.05 441.31 505.97 438.77 506.89 437.09 C507.80 435.41 508.48 433.79 509.64 432.50 C510.80 431.22 512.63 429.38 513.86 429.38 C515.08 429.38 516.00 430.91 516.97 432.50 C517.95 434.09 518.35 437.24 519.72 438.92 C521.10 440.60 522.78 441.73 525.23 442.59 C527.67 443.45 521.10 443.75 534.40 444.06 C547.70 444.36 592.91 444.36 605.01 444.42 C617.11 444.49 606.67 444.42 607.00 444.42" fill="none" stroke="#3b439f" stroke-width="2.2" stroke-linejoin="round" stroke-linecap="round"/>
<path d="M438.10 444.42 C447.73 444.42 485.49 445.34 495.88 444.42 C506.27 443.51 499.24 441.37 500.47 438.92 C501.69 436.48 502.45 433.72 503.22 429.75 C503.98 425.78 504.44 422.11 505.05 415.08 C505.66 408.05 506.27 398.26 506.89 387.56 C507.50 376.86 508.05 362.19 508.72 350.88 C509.39 339.57 510.16 327.80 510.92 319.70 C511.69 311.60 512.60 305.03 513.31 302.27 C514.01 299.52 514.53 300.29 515.14 303.19 C515.75 306.10 516.36 312.67 516.97 319.70 C517.58 326.73 518.10 335.60 518.81 345.38 C519.51 355.16 520.43 368.31 521.19 378.39 C521.96 388.48 522.57 398.26 523.39 405.91 C524.22 413.55 525.07 419.36 526.14 424.25 C527.21 429.14 528.13 432.81 529.81 435.25 C531.49 437.70 533.33 437.70 536.23 438.92 C539.14 440.14 543.26 441.83 547.24 442.59 C551.21 443.35 550.45 443.26 560.08 443.51 C569.71 443.75 597.19 443.97 605.01 444.06 C612.84 444.15 606.67 444.06 607.00 444.06" fill="none" stroke="#d02a1a" stroke-width="2.2" stroke-linejoin="round" stroke-linecap="round"/>
<path d="M510.55 299.52 L499.55 296.32 L499.55 302.72 Z" fill="#000" stroke="none" stroke-width="1"/>
<path d="M510.55 427.92 L499.55 424.72 L499.55 431.12 Z" fill="#000" stroke="none" stroke-width="1"/>
<text x="672.50" y="242.00" font-size="18.5" fill="#555" stroke="#555" stroke-width="0.45" textLength="95.00" lengthAdjust="spacingAndGlyphs">LSFISEGEIK</text>
<text x="702.00" y="257.00" font-size="10.6" fill="#555" stroke="#555" stroke-width="0.4" textLength="34.75" lengthAdjust="spacingAndGlyphs">ORF1p</text>
<text x="622.50" y="266.50" font-size="10.2" fill="#111" stroke="#111" stroke-width="0.5" textLength="17.50" lengthAdjust="spacingAndGlyphs">x 10</text>
<text x="641.40" y="262.90" font-size="5.8" fill="#111" stroke="#111" stroke-width="0.3">3</text>
<line x1="621.00" y1="270.70" x2="644.50" y2="270.70" stroke="#111" stroke-width="1.75"/>
<line x1="638.70" y1="279.30" x2="638.70" y2="445.30" stroke="#111" stroke-width="1.25"/>
<line x1="634.20" y1="444.80" x2="643.20" y2="444.80" stroke="#111" stroke-width="1.1"/>
<line x1="636.30" y1="438.38" x2="641.10" y2="438.38" stroke="#111" stroke-width="1.0"/>
<line x1="636.30" y1="431.96" x2="641.10" y2="431.96" stroke="#111" stroke-width="1.0"/>
<line x1="636.30" y1="425.54" x2="641.10" y2="425.54" stroke="#111" stroke-width="1.0"/>
<line x1="636.30" y1="419.12" x2="641.10" y2="419.12" stroke="#111" stroke-width="1.0"/>
<line x1="634.20" y1="412.70" x2="643.20" y2="412.70" stroke="#111" stroke-width="1.1"/>
<line x1="636.30" y1="406.28" x2="641.10" y2="406.28" stroke="#111" stroke-width="1.0"/>
<line x1="636.30" y1="399.86" x2="641.10" y2="399.86" stroke="#111" stroke-width="1.0"/>
<line x1="636.30" y1="393.44" x2="641.10" y2="393.44" stroke="#111" stroke-width="1.0"/>
<line x1="636.30" y1="387.02" x2="641.10" y2="387.02" stroke="#111" stroke-width="1.0"/>
<line x1="634.20" y1="380.60" x2="643.20" y2="380.60" stroke="#111" stroke-width="1.1"/>
<line x1="636.30" y1="374.18" x2="641.10" y2="374.18" stroke="#111" stroke-width="1.0"/>
<line x1="636.30" y1="367.76" x2="641.10" y2="367.76" stroke="#111" stroke-width="1.0"/>
<line x1="636.30" y1="361.34" x2="641.10" y2="361.34" stroke="#111" stroke-width="1.0"/>
<line x1="636.30" y1="354.92" x2="641.10" y2="354.92" stroke="#111" stroke-width="1.0"/>
<line x1="634.20" y1="348.50" x2="643.20" y2="348.50" stroke="#111" stroke-width="1.1"/>
<line x1="636.30" y1="342.08" x2="641.10" y2="342.08" stroke="#111" stroke-width="1.0"/>
<line x1="636.30" y1="335.66" x2="641.10" y2="335.66" stroke="#111" stroke-width="1.0"/>
<line x1="636.30" y1="329.24" x2="641.10" y2="329.24" stroke="#111" stroke-width="1.0"/>
<line x1="636.30" y1="322.82" x2="641.10" y2="322.82" stroke="#111" stroke-width="1.0"/>
<line x1="634.20" y1="316.40" x2="643.20" y2="316.40" stroke="#111" stroke-width="1.1"/>
<line x1="636.30" y1="309.98" x2="641.10" y2="309.98" stroke="#111" stroke-width="1.0"/>
<line x1="636.30" y1="303.56" x2="641.10" y2="303.56" stroke="#111" stroke-width="1.0"/>
<line x1="636.30" y1="297.14" x2="641.10" y2="297.14" stroke="#111" stroke-width="1.0"/>
<line x1="636.30" y1="290.72" x2="641.10" y2="290.72" stroke="#111" stroke-width="1.0"/>
<line x1="634.20" y1="284.30" x2="643.20" y2="284.30" stroke="#111" stroke-width="1.1"/>
<text x="630.30" y="449.80" font-size="10.3" fill="#111" stroke="#111" stroke-width="0.4" text-anchor="end" textLength="5.15" lengthAdjust="spacingAndGlyphs">0</text>
<text x="630.30" y="417.70" font-size="10.3" fill="#111" stroke="#111" stroke-width="0.4" text-anchor="end" textLength="15.46" lengthAdjust="spacingAndGlyphs">100</text>
<text x="630.30" y="385.60" font-size="10.3" fill="#111" stroke="#111" stroke-width="0.4" text-anchor="end" textLength="15.46" lengthAdjust="spacingAndGlyphs">200</text>
<text x="630.30" y="353.50" font-size="10.3" fill="#111" stroke="#111" stroke-width="0.4" text-anchor="end" textLength="15.46" lengthAdjust="spacingAndGlyphs">300</text>
<text x="630.30" y="321.40" font-size="10.3" fill="#111" stroke="#111" stroke-width="0.4" text-anchor="end" textLength="15.46" lengthAdjust="spacingAndGlyphs">400</text>
<text x="630.30" y="289.30" font-size="10.3" fill="#111" stroke="#111" stroke-width="0.4" text-anchor="end" textLength="15.46" lengthAdjust="spacingAndGlyphs">500</text>
<line x1="638.10" y1="444.80" x2="805.00" y2="444.80" stroke="#111" stroke-width="1.3"/>
<line x1="642.93" y1="443.80" x2="642.93" y2="447.40" stroke="#111" stroke-width="1.1"/>
<line x1="651.81" y1="443.80" x2="651.81" y2="447.40" stroke="#111" stroke-width="1.1"/>
<line x1="660.70" y1="440.80" x2="660.70" y2="449.20" stroke="#111" stroke-width="1.2"/>
<line x1="669.59" y1="443.80" x2="669.59" y2="447.40" stroke="#111" stroke-width="1.1"/>
<line x1="678.47" y1="443.80" x2="678.47" y2="447.40" stroke="#111" stroke-width="1.1"/>
<line x1="687.36" y1="443.80" x2="687.36" y2="447.40" stroke="#111" stroke-width="1.1"/>
<line x1="696.25" y1="443.80" x2="696.25" y2="447.40" stroke="#111" stroke-width="1.1"/>
<line x1="705.13" y1="440.80" x2="705.13" y2="449.20" stroke="#111" stroke-width="1.2"/>
<line x1="714.02" y1="443.80" x2="714.02" y2="447.40" stroke="#111" stroke-width="1.1"/>
<line x1="722.91" y1="443.80" x2="722.91" y2="447.40" stroke="#111" stroke-width="1.1"/>
<line x1="731.79" y1="443.80" x2="731.79" y2="447.40" stroke="#111" stroke-width="1.1"/>
<line x1="740.68" y1="443.80" x2="740.68" y2="447.40" stroke="#111" stroke-width="1.1"/>
<line x1="749.57" y1="440.80" x2="749.57" y2="449.20" stroke="#111" stroke-width="1.2"/>
<line x1="758.45" y1="443.80" x2="758.45" y2="447.40" stroke="#111" stroke-width="1.1"/>
<line x1="767.34" y1="443.80" x2="767.34" y2="447.40" stroke="#111" stroke-width="1.1"/>
<line x1="776.23" y1="443.80" x2="776.23" y2="447.40" stroke="#111" stroke-width="1.1"/>
<line x1="785.11" y1="443.80" x2="785.11" y2="447.40" stroke="#111" stroke-width="1.1"/>
<line x1="794.00" y1="440.80" x2="794.00" y2="449.20" stroke="#111" stroke-width="1.2"/>
<line x1="802.89" y1="443.80" x2="802.89" y2="447.40" stroke="#111" stroke-width="1.1"/>
<text x="660.70" y="459.30" font-size="9.8" fill="#111" stroke="#111" stroke-width="0.45" text-anchor="middle">48</text>
<text x="705.20" y="459.30" font-size="9.8" fill="#111" stroke="#111" stroke-width="0.45" text-anchor="middle">49</text>
<text x="749.60" y="459.30" font-size="9.8" fill="#111" stroke="#111" stroke-width="0.45" text-anchor="middle">50</text>
<text x="794.00" y="459.30" font-size="9.8" fill="#111" stroke="#111" stroke-width="0.45" text-anchor="middle">51</text>
<line x1="701.93" y1="313.28" x2="701.93" y2="440.76" stroke="#222" stroke-width="1.6" stroke-dasharray="8.2 4.3"/>
<line x1="701.93" y1="440.76" x2="701.93" y2="444.80" stroke="#222" stroke-width="1.2"/>
<line x1="739.90" y1="313.28" x2="739.90" y2="440.76" stroke="#222" stroke-width="1.6" stroke-dasharray="8.2 4.3"/>
<line x1="739.90" y1="440.76" x2="739.90" y2="444.80" stroke="#222" stroke-width="1.2"/>
<path d="M638.65 444.42 C649.72 444.42 693.37 444.88 705.05 444.42 C716.73 443.97 707.34 442.59 708.72 441.67 C710.10 440.76 711.93 439.62 713.31 438.92 C714.68 438.22 715.75 437.45 716.97 437.45 C718.20 437.45 719.42 438.22 720.64 438.92 C721.86 439.62 722.63 440.91 724.31 441.67 C725.99 442.44 727.83 443.05 730.73 443.51 C733.63 443.97 729.35 444.27 741.74 444.42 C754.12 444.58 794.47 444.42 805.01 444.42" fill="none" stroke="#3b439f" stroke-width="2.2" stroke-linejoin="round" stroke-linecap="round"/>
<path d="M638.65 444.06 C649.11 443.97 690.32 444.06 701.38 443.51 C712.45 442.96 703.98 442.74 705.05 440.76 C706.12 438.77 706.95 436.48 707.80 431.58 C708.66 426.69 709.42 420.27 710.19 411.41 C710.95 402.54 711.65 389.09 712.39 378.39 C713.12 367.69 713.89 356.38 714.59 347.21 C715.29 338.04 715.90 329.18 716.61 323.37 C717.31 317.56 718.04 312.97 718.81 312.36 C719.57 311.75 720.43 314.81 721.19 319.70 C721.96 324.59 722.66 331.93 723.39 341.71 C724.13 351.49 724.83 366.17 725.59 378.39 C726.36 390.62 727.12 406.21 727.98 415.08 C728.83 423.94 729.66 427.61 730.73 431.58 C731.80 435.56 732.87 437.24 734.40 438.92 C735.93 440.60 737.15 441.00 739.90 441.67 C742.65 442.35 744.49 442.65 750.91 442.96 C757.33 443.26 770.78 443.42 778.42 443.51 C786.06 443.60 792.33 443.66 796.76 443.51 C801.19 443.35 803.64 442.74 805.01 442.59" fill="none" stroke="#d02a1a" stroke-width="2.2" stroke-linejoin="round" stroke-linecap="round"/>
<path d="M715.14 311.45 L704.14 308.25 L704.14 314.65 Z" fill="#000" stroke="none" stroke-width="1"/>
<path d="M713.86 436.17 L702.86 432.97 L702.86 439.37 Z" fill="#000" stroke="none" stroke-width="1"/>
<text x="866.25" y="242.00" font-size="18.5" fill="#555" stroke="#555" stroke-width="0.45" textLength="93.75" lengthAdjust="spacingAndGlyphs">QVLSDLQR</text>
<text x="895.00" y="257.00" font-size="10.6" fill="#555" stroke="#555" stroke-width="0.4" textLength="35.00" lengthAdjust="spacingAndGlyphs">ORF2p</text>
<text x="816.90" y="266.50" font-size="10.2" fill="#111" stroke="#111" stroke-width="0.5" textLength="17.50" lengthAdjust="spacingAndGlyphs">x 10</text>
<text x="835.80" y="262.90" font-size="5.8" fill="#111" stroke="#111" stroke-width="0.3">3</text>
<line x1="815.00" y1="270.70" x2="839.40" y2="270.70" stroke="#111" stroke-width="1.75"/>
<line x1="833.20" y1="279.20" x2="833.20" y2="445.30" stroke="#111" stroke-width="1.25"/>
<line x1="828.70" y1="444.80" x2="837.70" y2="444.80" stroke="#111" stroke-width="1.1"/>
<line x1="830.80" y1="441.62" x2="835.60" y2="441.62" stroke="#111" stroke-width="1.0"/>
<line x1="830.80" y1="438.44" x2="835.60" y2="438.44" stroke="#111" stroke-width="1.0"/>
<line x1="830.80" y1="435.26" x2="835.60" y2="435.26" stroke="#111" stroke-width="1.0"/>
<line x1="830.80" y1="432.08" x2="835.60" y2="432.08" stroke="#111" stroke-width="1.0"/>
<line x1="828.70" y1="428.90" x2="837.70" y2="428.90" stroke="#111" stroke-width="1.1"/>
<line x1="830.80" y1="425.72" x2="835.60" y2="425.72" stroke="#111" stroke-width="1.0"/>
<line x1="830.80" y1="422.54" x2="835.60" y2="422.54" stroke="#111" stroke-width="1.0"/>
<line x1="830.80" y1="419.36" x2="835.60" y2="419.36" stroke="#111" stroke-width="1.0"/>
<line x1="830.80" y1="416.18" x2="835.60" y2="416.18" stroke="#111" stroke-width="1.0"/>
<line x1="828.70" y1="413.00" x2="837.70" y2="413.00" stroke="#111" stroke-width="1.1"/>
<line x1="830.80" y1="409.82" x2="835.60" y2="409.82" stroke="#111" stroke-width="1.0"/>
<line x1="830.80" y1="406.64" x2="835.60" y2="406.64" stroke="#111" stroke-width="1.0"/>
<line x1="830.80" y1="403.46" x2="835.60" y2="403.46" stroke="#111" stroke-width="1.0"/>
<line x1="830.80" y1="400.28" x2="835.60" y2="400.28" stroke="#111" stroke-width="1.0"/>
<line x1="828.70" y1="397.10" x2="837.70" y2="397.10" stroke="#111" stroke-width="1.1"/>
<line x1="830.80" y1="393.92" x2="835.60" y2="393.92" stroke="#111" stroke-width="1.0"/>
<line x1="830.80" y1="390.74" x2="835.60" y2="390.74" stroke="#111" stroke-width="1.0"/>
<line x1="830.80" y1="387.56" x2="835.60" y2="387.56" stroke="#111" stroke-width="1.0"/>
<line x1="830.80" y1="384.38" x2="835.60" y2="384.38" stroke="#111" stroke-width="1.0"/>
<line x1="828.70" y1="381.20" x2="837.70" y2="381.20" stroke="#111" stroke-width="1.1"/>
<line x1="830.80" y1="378.02" x2="835.60" y2="378.02" stroke="#111" stroke-width="1.0"/>
<line x1="830.80" y1="374.84" x2="835.60" y2="374.84" stroke="#111" stroke-width="1.0"/>
<line x1="830.80" y1="371.66" x2="835.60" y2="371.66" stroke="#111" stroke-width="1.0"/>
<line x1="830.80" y1="368.48" x2="835.60" y2="368.48" stroke="#111" stroke-width="1.0"/>
<line x1="828.70" y1="365.30" x2="837.70" y2="365.30" stroke="#111" stroke-width="1.1"/>
<line x1="830.80" y1="362.12" x2="835.60" y2="362.12" stroke="#111" stroke-width="1.0"/>
<line x1="830.80" y1="358.94" x2="835.60" y2="358.94" stroke="#111" stroke-width="1.0"/>
<line x1="830.80" y1="355.76" x2="835.60" y2="355.76" stroke="#111" stroke-width="1.0"/>
<line x1="830.80" y1="352.58" x2="835.60" y2="352.58" stroke="#111" stroke-width="1.0"/>
<line x1="828.70" y1="349.40" x2="837.70" y2="349.40" stroke="#111" stroke-width="1.1"/>
<line x1="830.80" y1="346.22" x2="835.60" y2="346.22" stroke="#111" stroke-width="1.0"/>
<line x1="830.80" y1="343.04" x2="835.60" y2="343.04" stroke="#111" stroke-width="1.0"/>
<line x1="830.80" y1="339.86" x2="835.60" y2="339.86" stroke="#111" stroke-width="1.0"/>
<line x1="830.80" y1="336.68" x2="835.60" y2="336.68" stroke="#111" stroke-width="1.0"/>
<line x1="828.70" y1="333.50" x2="837.70" y2="333.50" stroke="#111" stroke-width="1.1"/>
<line x1="830.80" y1="330.32" x2="835.60" y2="330.32" stroke="#111" stroke-width="1.0"/>
<line x1="830.80" y1="327.14" x2="835.60" y2="327.14" stroke="#111" stroke-width="1.0"/>
<line x1="830.80" y1="323.96" x2="835.60" y2="323.96" stroke="#111" stroke-width="1.0"/>
<line x1="830.80" y1="320.78" x2="835.60" y2="320.78" stroke="#111" stroke-width="1.0"/>
<line x1="828.70" y1="317.60" x2="837.70" y2="317.60" stroke="#111" stroke-width="1.1"/>
<line x1="830.80" y1="314.42" x2="835.60" y2="314.42" stroke="#111" stroke-width="1.0"/>
<line x1="830.80" y1="311.24" x2="835.60" y2="311.24" stroke="#111" stroke-width="1.0"/>
<line x1="830.80" y1="308.06" x2="835.60" y2="308.06" stroke="#111" stroke-width="1.0"/>
<line x1="830.80" y1="304.88" x2="835.60" y2="304.88" stroke="#111" stroke-width="1.0"/>
<line x1="828.70" y1="301.70" x2="837.70" y2="301.70" stroke="#111" stroke-width="1.1"/>
<line x1="830.80" y1="298.52" x2="835.60" y2="298.52" stroke="#111" stroke-width="1.0"/>
<line x1="830.80" y1="295.34" x2="835.60" y2="295.34" stroke="#111" stroke-width="1.0"/>
<line x1="830.80" y1="292.16" x2="835.60" y2="292.16" stroke="#111" stroke-width="1.0"/>
<line x1="830.80" y1="288.98" x2="835.60" y2="288.98" stroke="#111" stroke-width="1.0"/>
<line x1="828.70" y1="285.80" x2="837.70" y2="285.80" stroke="#111" stroke-width="1.1"/>
<line x1="830.80" y1="282.62" x2="835.60" y2="282.62" stroke="#111" stroke-width="1.0"/>
<line x1="830.80" y1="279.44" x2="835.60" y2="279.44" stroke="#111" stroke-width="1.0"/>
<text x="820.20" y="445.80" font-size="10.3" fill="#111" stroke="#111" stroke-width="0.4" text-anchor="middle" textLength="5.15" lengthAdjust="spacingAndGlyphs">0</text>
<text x="820.20" y="429.90" font-size="10.3" fill="#111" stroke="#111" stroke-width="0.4" text-anchor="middle" textLength="5.15" lengthAdjust="spacingAndGlyphs">1</text>
<text x="820.20" y="414.00" font-size="10.3" fill="#111" stroke="#111" stroke-width="0.4" text-anchor="middle" textLength="5.15" lengthAdjust="spacingAndGlyphs">2</text>
<text x="820.20" y="398.10" font-size="10.3" fill="#111" stroke="#111" stroke-width="0.4" text-anchor="middle" textLength="5.15" lengthAdjust="spacingAndGlyphs">3</text>
<text x="820.20" y="382.20" font-size="10.3" fill="#111" stroke="#111" stroke-width="0.4" text-anchor="middle" textLength="5.15" lengthAdjust="spacingAndGlyphs">4</text>
<text x="820.20" y="366.30" font-size="10.3" fill="#111" stroke="#111" stroke-width="0.4" text-anchor="middle" textLength="5.15" lengthAdjust="spacingAndGlyphs">5</text>
<text x="820.20" y="350.40" font-size="10.3" fill="#111" stroke="#111" stroke-width="0.4" text-anchor="middle" textLength="5.15" lengthAdjust="spacingAndGlyphs">6</text>
<text x="820.20" y="334.50" font-size="10.3" fill="#111" stroke="#111" stroke-width="0.4" text-anchor="middle" textLength="5.15" lengthAdjust="spacingAndGlyphs">7</text>
<text x="820.20" y="318.60" font-size="10.3" fill="#111" stroke="#111" stroke-width="0.4" text-anchor="middle" textLength="5.15" lengthAdjust="spacingAndGlyphs">8</text>
<text x="820.20" y="302.70" font-size="10.3" fill="#111" stroke="#111" stroke-width="0.4" text-anchor="middle" textLength="5.15" lengthAdjust="spacingAndGlyphs">9</text>
<text x="820.20" y="286.80" font-size="10.3" fill="#111" stroke="#111" stroke-width="0.4" text-anchor="middle" textLength="10.31" lengthAdjust="spacingAndGlyphs">10</text>
<line x1="832.60" y1="444.80" x2="1005.00" y2="444.80" stroke="#111" stroke-width="1.3"/>
<line x1="837.46" y1="443.80" x2="837.46" y2="447.40" stroke="#111" stroke-width="1.1"/>
<line x1="846.08" y1="443.80" x2="846.08" y2="447.40" stroke="#111" stroke-width="1.1"/>
<line x1="854.70" y1="440.80" x2="854.70" y2="449.20" stroke="#111" stroke-width="1.2"/>
<line x1="863.32" y1="443.80" x2="863.32" y2="447.40" stroke="#111" stroke-width="1.1"/>
<line x1="871.94" y1="443.80" x2="871.94" y2="447.40" stroke="#111" stroke-width="1.1"/>
<line x1="880.56" y1="443.80" x2="880.56" y2="447.40" stroke="#111" stroke-width="1.1"/>
<line x1="889.18" y1="443.80" x2="889.18" y2="447.40" stroke="#111" stroke-width="1.1"/>
<line x1="897.80" y1="440.80" x2="897.80" y2="449.20" stroke="#111" stroke-width="1.2"/>
<line x1="906.42" y1="443.80" x2="906.42" y2="447.40" stroke="#111" stroke-width="1.1"/>
<line x1="915.04" y1="443.80" x2="915.04" y2="447.40" stroke="#111" stroke-width="1.1"/>
<line x1="923.66" y1="443.80" x2="923.66" y2="447.40" stroke="#111" stroke-width="1.1"/>
<line x1="932.28" y1="443.80" x2="932.28" y2="447.40" stroke="#111" stroke-width="1.1"/>
<line x1="940.90" y1="440.80" x2="940.90" y2="449.20" stroke="#111" stroke-width="1.2"/>
<line x1="949.52" y1="443.80" x2="949.52" y2="447.40" stroke="#111" stroke-width="1.1"/>
<line x1="958.14" y1="443.80" x2="958.14" y2="447.40" stroke="#111" stroke-width="1.1"/>
<line x1="966.76" y1="443.80" x2="966.76" y2="447.40" stroke="#111" stroke-width="1.1"/>
<line x1="975.38" y1="443.80" x2="975.38" y2="447.40" stroke="#111" stroke-width="1.1"/>
<line x1="984.00" y1="440.80" x2="984.00" y2="449.20" stroke="#111" stroke-width="1.2"/>
<line x1="992.62" y1="443.80" x2="992.62" y2="447.40" stroke="#111" stroke-width="1.1"/>
<line x1="1001.24" y1="443.80" x2="1001.24" y2="447.40" stroke="#111" stroke-width="1.1"/>
<text x="854.70" y="459.30" font-size="9.8" fill="#111" stroke="#111" stroke-width="0.45" text-anchor="middle">33</text>
<text x="897.80" y="459.30" font-size="9.8" fill="#111" stroke="#111" stroke-width="0.45" text-anchor="middle">34</text>
<text x="940.90" y="459.30" font-size="9.8" fill="#111" stroke="#111" stroke-width="0.45" text-anchor="middle">35</text>
<text x="984.00" y="459.30" font-size="9.8" fill="#111" stroke="#111" stroke-width="0.45" text-anchor="middle">36</text>
<line x1="898.50" y1="317.87" x2="898.50" y2="440.76" stroke="#222" stroke-width="1.6" stroke-dasharray="8.2 4.3"/>
<line x1="898.50" y1="440.76" x2="898.50" y2="444.80" stroke="#222" stroke-width="1.2"/>
<line x1="936.28" y1="317.87" x2="936.28" y2="437.09" stroke="#222" stroke-width="1.6" stroke-dasharray="8.2 4.3"/>
<line x1="936.28" y1="437.09" x2="936.28" y2="444.80" stroke="#222" stroke-width="1.2"/>
<path d="M833.02 442.96 C835.16 442.90 839.13 442.50 845.85 442.59 C852.58 442.68 865.11 443.35 873.37 443.51 C881.62 443.66 891.25 443.72 895.38 443.51 C899.50 443.29 897.21 443.29 898.13 442.22 C899.05 441.15 899.96 440.08 900.88 437.09 C901.80 434.09 902.71 430.06 903.63 424.25 C904.55 418.44 905.47 411.71 906.38 402.24 C907.30 392.76 908.28 379.00 909.13 367.39 C909.99 355.77 910.91 340.73 911.52 332.54 C912.13 324.35 912.28 319.76 912.80 318.23 C913.32 316.70 914.03 322.21 914.64 323.37 C915.25 324.53 915.77 320.92 916.47 325.20 C917.17 329.48 917.94 339.57 918.86 349.05 C919.77 358.52 921.00 372.28 921.97 382.06 C922.95 391.84 923.65 400.40 924.72 407.74 C925.79 415.08 927.02 421.19 928.39 426.08 C929.77 430.97 931.14 434.64 932.98 437.09 C934.81 439.53 937.11 439.84 939.40 440.76 C941.69 441.67 935.79 442.22 946.74 442.59 C957.68 442.96 995.34 442.90 1005.06 442.96" fill="none" stroke="#3b439f" stroke-width="2.2" stroke-linejoin="round" stroke-linecap="round"/>
<path d="M833.02 433.42 C833.47 432.50 834.91 429.29 835.77 427.92 C836.62 426.54 837.33 425.17 838.15 425.17 C838.98 425.17 839.74 426.69 840.72 427.92 C841.70 429.14 842.71 431.28 844.02 432.50 C845.34 433.72 847.23 434.18 848.61 435.25 C849.98 436.32 851.20 437.85 852.27 438.92 C853.34 439.99 853.65 441.52 855.03 441.67 C856.40 441.83 859.00 440.05 860.53 439.84 C862.06 439.62 862.67 439.93 864.20 440.39 C865.73 440.85 867.87 442.07 869.70 442.59 C871.53 443.11 873.37 443.66 875.20 443.51 C877.04 443.35 878.87 441.76 880.70 441.67 C882.54 441.58 884.07 442.87 886.21 442.96 C888.35 443.05 891.71 442.44 893.54 442.22 C895.38 442.01 896.14 442.22 897.21 441.67 C898.28 441.12 899.05 440.30 899.96 438.92 C900.88 437.55 901.80 436.17 902.71 433.42 C903.63 430.67 904.55 426.69 905.47 422.41 C906.38 418.13 907.30 413.24 908.22 407.74 C909.13 402.24 910.11 394.90 910.97 389.40 C911.82 383.90 912.68 378.55 913.35 374.72 C914.03 370.90 914.42 367.08 915.00 366.47 C915.58 365.86 916.13 366.62 916.84 371.06 C917.54 375.49 918.52 386.95 919.22 393.07 C919.93 399.18 920.29 402.24 921.06 407.74 C921.82 413.24 922.74 421.50 923.81 426.08 C924.88 430.67 926.10 433.11 927.48 435.25 C928.85 437.39 930.07 438.07 932.06 438.92 C934.05 439.78 937.26 439.93 939.40 440.39 C941.54 440.85 943.07 441.61 944.90 441.67 C946.74 441.73 948.57 440.60 950.40 440.76 C952.24 440.91 954.07 443.20 955.91 442.59 C957.74 441.98 959.73 438.62 961.41 437.09 C963.09 435.56 964.47 433.57 965.99 433.42 C967.52 433.27 968.90 435.10 970.58 436.17 C972.26 437.24 973.94 438.83 976.08 439.84 C978.22 440.85 980.67 441.76 983.42 442.22 C986.17 442.68 988.98 442.47 992.59 442.59 C996.20 442.71 1002.98 442.90 1005.06 442.96" fill="none" stroke="#d02a1a" stroke-width="2.2" stroke-linejoin="round" stroke-linecap="round"/>
<path d="M909.68 316.40 L898.68 313.20 L898.68 319.60 Z" fill="#000" stroke="none" stroke-width="1"/>
<path d="M911.52 365.00 L900.52 361.80 L900.52 368.20 Z" fill="#000" stroke="none" stroke-width="1"/>
<text x="1068.25" y="242.00" font-size="18.5" fill="#555" stroke="#555" stroke-width="0.45" textLength="91.75" lengthAdjust="spacingAndGlyphs">IFATYSSDK</text>
<text x="1096.25" y="257.00" font-size="10.6" fill="#555" stroke="#555" stroke-width="0.4" textLength="34.25" lengthAdjust="spacingAndGlyphs">ORF2p</text>
<text x="1021.20" y="266.50" font-size="10.2" fill="#111" stroke="#111" stroke-width="0.5" textLength="17.50" lengthAdjust="spacingAndGlyphs">x 10</text>
<text x="1040.10" y="262.90" font-size="5.8" fill="#111" stroke="#111" stroke-width="0.3">3</text>
<line x1="1018.80" y1="270.70" x2="1043.20" y2="270.70" stroke="#111" stroke-width="1.75"/>
<line x1="1037.60" y1="279.50" x2="1037.60" y2="445.80" stroke="#111" stroke-width="1.25"/>
<line x1="1033.10" y1="445.30" x2="1042.10" y2="445.30" stroke="#111" stroke-width="1.1"/>
<line x1="1035.20" y1="438.39" x2="1040.00" y2="438.39" stroke="#111" stroke-width="1.0"/>
<line x1="1035.20" y1="431.48" x2="1040.00" y2="431.48" stroke="#111" stroke-width="1.0"/>
<line x1="1035.20" y1="424.57" x2="1040.00" y2="424.57" stroke="#111" stroke-width="1.0"/>
<line x1="1033.10" y1="417.67" x2="1042.10" y2="417.67" stroke="#111" stroke-width="1.1"/>
<line x1="1035.20" y1="410.76" x2="1040.00" y2="410.76" stroke="#111" stroke-width="1.0"/>
<line x1="1035.20" y1="403.85" x2="1040.00" y2="403.85" stroke="#111" stroke-width="1.0"/>
<line x1="1035.20" y1="396.94" x2="1040.00" y2="396.94" stroke="#111" stroke-width="1.0"/>
<line x1="1033.10" y1="390.03" x2="1042.10" y2="390.03" stroke="#111" stroke-width="1.1"/>
<line x1="1035.20" y1="383.12" x2="1040.00" y2="383.12" stroke="#111" stroke-width="1.0"/>
<line x1="1035.20" y1="376.22" x2="1040.00" y2="376.22" stroke="#111" stroke-width="1.0"/>
<line x1="1035.20" y1="369.31" x2="1040.00" y2="369.31" stroke="#111" stroke-width="1.0"/>
<line x1="1033.10" y1="362.40" x2="1042.10" y2="362.40" stroke="#111" stroke-width="1.1"/>
<line x1="1035.20" y1="355.49" x2="1040.00" y2="355.49" stroke="#111" stroke-width="1.0"/>
<line x1="1035.20" y1="348.58" x2="1040.00" y2="348.58" stroke="#111" stroke-width="1.0"/>
<line x1="1035.20" y1="341.68" x2="1040.00" y2="341.68" stroke="#111" stroke-width="1.0"/>
<line x1="1033.10" y1="334.77" x2="1042.10" y2="334.77" stroke="#111" stroke-width="1.1"/>
<line x1="1035.20" y1="327.86" x2="1040.00" y2="327.86" stroke="#111" stroke-width="1.0"/>
<line x1="1035.20" y1="320.95" x2="1040.00" y2="320.95" stroke="#111" stroke-width="1.0"/>
<line x1="1035.20" y1="314.04" x2="1040.00" y2="314.04" stroke="#111" stroke-width="1.0"/>
<line x1="1033.10" y1="307.13" x2="1042.10" y2="307.13" stroke="#111" stroke-width="1.1"/>
<line x1="1035.20" y1="300.23" x2="1040.00" y2="300.23" stroke="#111" stroke-width="1.0"/>
<line x1="1035.20" y1="293.32" x2="1040.00" y2="293.32" stroke="#111" stroke-width="1.0"/>
<line x1="1035.20" y1="286.41" x2="1040.00" y2="286.41" stroke="#111" stroke-width="1.0"/>
<line x1="1033.10" y1="279.50" x2="1042.10" y2="279.50" stroke="#111" stroke-width="1.1"/>
<text x="1029.30" y="449.80" font-size="10.3" fill="#111" stroke="#111" stroke-width="0.4" text-anchor="end" textLength="5.15" lengthAdjust="spacingAndGlyphs">0</text>
<text x="1029.30" y="422.17" font-size="10.3" fill="#111" stroke="#111" stroke-width="0.4" text-anchor="end" textLength="5.15" lengthAdjust="spacingAndGlyphs">2</text>
<text x="1029.30" y="394.53" font-size="10.3" fill="#111" stroke="#111" stroke-width="0.4" text-anchor="end" textLength="5.15" lengthAdjust="spacingAndGlyphs">4</text>
<text x="1029.30" y="366.90" font-size="10.3" fill="#111" stroke="#111" stroke-width="0.4" text-anchor="end" textLength="5.15" lengthAdjust="spacingAndGlyphs">6</text>
<text x="1029.30" y="339.27" font-size="10.3" fill="#111" stroke="#111" stroke-width="0.4" text-anchor="end" textLength="5.15" lengthAdjust="spacingAndGlyphs">8</text>
<text x="1029.30" y="311.63" font-size="10.3" fill="#111" stroke="#111" stroke-width="0.4" text-anchor="end" textLength="10.31" lengthAdjust="spacingAndGlyphs">10</text>
<text x="1029.30" y="284.00" font-size="10.3" fill="#111" stroke="#111" stroke-width="0.4" text-anchor="end" textLength="10.31" lengthAdjust="spacingAndGlyphs">12</text>
<line x1="1037.00" y1="445.30" x2="1200.00" y2="445.30" stroke="#111" stroke-width="1.3"/>
<line x1="1040.26" y1="444.30" x2="1040.26" y2="447.90" stroke="#111" stroke-width="1.1"/>
<line x1="1048.44" y1="444.30" x2="1048.44" y2="447.90" stroke="#111" stroke-width="1.1"/>
<line x1="1056.62" y1="444.30" x2="1056.62" y2="447.90" stroke="#111" stroke-width="1.1"/>
<line x1="1064.80" y1="441.30" x2="1064.80" y2="449.70" stroke="#111" stroke-width="1.2"/>
<line x1="1072.98" y1="444.30" x2="1072.98" y2="447.90" stroke="#111" stroke-width="1.1"/>
<line x1="1081.16" y1="444.30" x2="1081.16" y2="447.90" stroke="#111" stroke-width="1.1"/>
<line x1="1089.34" y1="444.30" x2="1089.34" y2="447.90" stroke="#111" stroke-width="1.1"/>
<line x1="1097.52" y1="444.30" x2="1097.52" y2="447.90" stroke="#111" stroke-width="1.1"/>
<line x1="1105.70" y1="441.30" x2="1105.70" y2="449.70" stroke="#111" stroke-width="1.2"/>
<line x1="1113.88" y1="444.30" x2="1113.88" y2="447.90" stroke="#111" stroke-width="1.1"/>
<line x1="1122.06" y1="444.30" x2="1122.06" y2="447.90" stroke="#111" stroke-width="1.1"/>
<line x1="1130.24" y1="444.30" x2="1130.24" y2="447.90" stroke="#111" stroke-width="1.1"/>
<line x1="1138.42" y1="444.30" x2="1138.42" y2="447.90" stroke="#111" stroke-width="1.1"/>
<line x1="1146.60" y1="441.30" x2="1146.60" y2="449.70" stroke="#111" stroke-width="1.2"/>
<line x1="1154.78" y1="444.30" x2="1154.78" y2="447.90" stroke="#111" stroke-width="1.1"/>
<line x1="1162.96" y1="444.30" x2="1162.96" y2="447.90" stroke="#111" stroke-width="1.1"/>
<line x1="1171.14" y1="444.30" x2="1171.14" y2="447.90" stroke="#111" stroke-width="1.1"/>
<line x1="1179.32" y1="444.30" x2="1179.32" y2="447.90" stroke="#111" stroke-width="1.1"/>
<line x1="1187.50" y1="441.30" x2="1187.50" y2="449.70" stroke="#111" stroke-width="1.2"/>
<line x1="1195.68" y1="444.30" x2="1195.68" y2="447.90" stroke="#111" stroke-width="1.1"/>
<text x="1064.80" y="459.80" font-size="9.8" fill="#111" stroke="#111" stroke-width="0.45" text-anchor="middle">32</text>
<text x="1106.00" y="459.80" font-size="9.8" fill="#111" stroke="#111" stroke-width="0.45" text-anchor="middle">33</text>
<text x="1146.80" y="459.80" font-size="9.8" fill="#111" stroke="#111" stroke-width="0.45" text-anchor="middle">34</text>
<text x="1187.50" y="459.80" font-size="9.8" fill="#111" stroke="#111" stroke-width="0.45" text-anchor="middle">35</text>
<line x1="1098.22" y1="303.19" x2="1098.22" y2="391.23" stroke="#222" stroke-width="1.6" stroke-dasharray="8.2 4.3"/>
<line x1="1098.22" y1="391.23" x2="1098.22" y2="445.30" stroke="#222" stroke-width="1.2"/>
<line x1="1138.94" y1="303.19" x2="1138.94" y2="391.23" stroke="#222" stroke-width="1.6" stroke-dasharray="8.2 4.3"/>
<line x1="1138.94" y1="391.23" x2="1138.94" y2="445.30" stroke="#222" stroke-width="1.2"/>
<path d="M1038.06 444.42 C1047.78 444.42 1086.05 444.88 1096.38 444.42 C1106.72 443.97 1098.98 443.81 1100.05 441.67 C1101.12 439.53 1101.89 436.93 1102.80 431.58 C1103.72 426.24 1104.64 418.44 1105.55 409.57 C1106.47 400.71 1107.54 388.79 1108.31 378.39 C1109.07 368.00 1109.53 355.77 1110.14 347.21 C1110.75 338.65 1111.36 332.23 1111.97 327.04 C1112.58 321.84 1113.29 319.94 1113.81 316.03 C1114.33 312.12 1114.63 304.17 1115.09 303.56 C1115.55 302.95 1115.86 306.62 1116.56 312.36 C1117.26 318.11 1118.45 328.87 1119.31 338.04 C1120.17 347.21 1120.78 358.22 1121.69 367.39 C1122.61 376.56 1123.68 385.12 1124.81 393.07 C1125.94 401.01 1127.11 408.66 1128.48 415.08 C1129.86 421.50 1131.39 427.61 1133.07 431.58 C1134.75 435.56 1136.43 437.24 1138.57 438.92 C1140.71 440.60 1143.15 441.06 1145.91 441.67 C1148.66 442.28 1146.06 442.38 1155.08 442.59 C1164.10 442.80 1192.53 442.90 1200.01 442.96" fill="none" stroke="#3b439f" stroke-width="2.2" stroke-linejoin="round" stroke-linecap="round"/>
<path d="M1038.06 444.06 C1042.27 443.97 1056.09 443.75 1063.37 443.51 C1070.64 443.26 1077.43 443.05 1081.71 442.59 C1085.99 442.13 1087.21 440.91 1089.05 440.76 C1090.88 440.60 1091.19 441.52 1092.71 441.67 C1094.24 441.83 1096.84 442.13 1098.22 441.67 C1099.59 441.21 1099.90 440.91 1100.97 438.92 C1102.04 436.93 1103.41 433.11 1104.64 429.75 C1105.86 426.39 1107.17 422.72 1108.31 418.75 C1109.44 414.77 1110.51 409.57 1111.42 405.91 C1112.34 402.24 1113.01 397.96 1113.81 396.74 C1114.60 395.51 1115.43 396.74 1116.19 398.57 C1116.96 400.40 1117.42 404.38 1118.39 407.74 C1119.37 411.10 1120.84 415.38 1122.06 418.75 C1123.28 422.11 1124.20 425.17 1125.73 427.92 C1127.26 430.67 1129.40 433.42 1131.23 435.25 C1133.07 437.09 1134.60 437.85 1136.74 438.92 C1138.88 439.99 1141.01 441.00 1144.07 441.67 C1147.13 442.35 1145.75 442.65 1155.08 442.96 C1164.40 443.26 1192.53 443.42 1200.01 443.51" fill="none" stroke="#d02a1a" stroke-width="2.2" stroke-linejoin="round" stroke-linecap="round"/>
<path d="M1111.42 301.72 L1100.42 298.52 L1100.42 304.92 Z" fill="#000" stroke="none" stroke-width="1"/>
<path d="M1111.97 395.82 L1100.97 392.62 L1100.97 399.02 Z" fill="#000" stroke="none" stroke-width="1"/>
<text x="63.75" y="570.50" font-size="18.5" fill="#555" stroke="#555" stroke-width="0.45" textLength="82.50" lengthAdjust="spacingAndGlyphs">NLEECITR</text>
<text x="87.50" y="585.50" font-size="10.6" fill="#555" stroke="#555" stroke-width="0.4" textLength="34.50" lengthAdjust="spacingAndGlyphs">ORF1p</text>
<text x="3.00" y="585.00" font-size="10.2" fill="#111" stroke="#111" stroke-width="0.5" textLength="17.50" lengthAdjust="spacingAndGlyphs">x 10</text>
<text x="21.90" y="581.40" font-size="5.8" fill="#111" stroke="#111" stroke-width="0.3">6</text>
<line x1="1.00" y1="588.90" x2="25.00" y2="588.90" stroke="#111" stroke-width="1.75"/>
<line x1="21.90" y1="598.20" x2="21.90" y2="769.40" stroke="#111" stroke-width="1.25"/>
<line x1="17.40" y1="768.90" x2="26.40" y2="768.90" stroke="#111" stroke-width="1.1"/>
<line x1="19.50" y1="764.02" x2="24.30" y2="764.02" stroke="#111" stroke-width="1.0"/>
<line x1="19.50" y1="759.15" x2="24.30" y2="759.15" stroke="#111" stroke-width="1.0"/>
<line x1="19.50" y1="754.27" x2="24.30" y2="754.27" stroke="#111" stroke-width="1.0"/>
<line x1="19.50" y1="749.39" x2="24.30" y2="749.39" stroke="#111" stroke-width="1.0"/>
<line x1="17.40" y1="744.51" x2="26.40" y2="744.51" stroke="#111" stroke-width="1.1"/>
<line x1="19.50" y1="739.64" x2="24.30" y2="739.64" stroke="#111" stroke-width="1.0"/>
<line x1="19.50" y1="734.76" x2="24.30" y2="734.76" stroke="#111" stroke-width="1.0"/>
<line x1="19.50" y1="729.88" x2="24.30" y2="729.88" stroke="#111" stroke-width="1.0"/>
<line x1="19.50" y1="725.01" x2="24.30" y2="725.01" stroke="#111" stroke-width="1.0"/>
<line x1="17.40" y1="720.13" x2="26.40" y2="720.13" stroke="#111" stroke-width="1.1"/>
<line x1="19.50" y1="715.25" x2="24.30" y2="715.25" stroke="#111" stroke-width="1.0"/>
<line x1="19.50" y1="710.37" x2="24.30" y2="710.37" stroke="#111" stroke-width="1.0"/>
<line x1="19.50" y1="705.50" x2="24.30" y2="705.50" stroke="#111" stroke-width="1.0"/>
<line x1="19.50" y1="700.62" x2="24.30" y2="700.62" stroke="#111" stroke-width="1.0"/>
<line x1="17.40" y1="695.74" x2="26.40" y2="695.74" stroke="#111" stroke-width="1.1"/>
<line x1="19.50" y1="690.87" x2="24.30" y2="690.87" stroke="#111" stroke-width="1.0"/>
<line x1="19.50" y1="685.99" x2="24.30" y2="685.99" stroke="#111" stroke-width="1.0"/>
<line x1="19.50" y1="681.11" x2="24.30" y2="681.11" stroke="#111" stroke-width="1.0"/>
<line x1="19.50" y1="676.23" x2="24.30" y2="676.23" stroke="#111" stroke-width="1.0"/>
<line x1="17.40" y1="671.36" x2="26.40" y2="671.36" stroke="#111" stroke-width="1.1"/>
<line x1="19.50" y1="666.48" x2="24.30" y2="666.48" stroke="#111" stroke-width="1.0"/>
<line x1="19.50" y1="661.60" x2="24.30" y2="661.60" stroke="#111" stroke-width="1.0"/>
<line x1="19.50" y1="656.73" x2="24.30" y2="656.73" stroke="#111" stroke-width="1.0"/>
<line x1="19.50" y1="651.85" x2="24.30" y2="651.85" stroke="#111" stroke-width="1.0"/>
<line x1="17.40" y1="646.97" x2="26.40" y2="646.97" stroke="#111" stroke-width="1.1"/>
<line x1="19.50" y1="642.09" x2="24.30" y2="642.09" stroke="#111" stroke-width="1.0"/>
<line x1="19.50" y1="637.22" x2="24.30" y2="637.22" stroke="#111" stroke-width="1.0"/>
<line x1="19.50" y1="632.34" x2="24.30" y2="632.34" stroke="#111" stroke-width="1.0"/>
<line x1="19.50" y1="627.46" x2="24.30" y2="627.46" stroke="#111" stroke-width="1.0"/>
<line x1="17.40" y1="622.59" x2="26.40" y2="622.59" stroke="#111" stroke-width="1.1"/>
<line x1="19.50" y1="617.71" x2="24.30" y2="617.71" stroke="#111" stroke-width="1.0"/>
<line x1="19.50" y1="612.83" x2="24.30" y2="612.83" stroke="#111" stroke-width="1.0"/>
<line x1="19.50" y1="607.95" x2="24.30" y2="607.95" stroke="#111" stroke-width="1.0"/>
<line x1="19.50" y1="603.08" x2="24.30" y2="603.08" stroke="#111" stroke-width="1.0"/>
<line x1="17.40" y1="598.20" x2="26.40" y2="598.20" stroke="#111" stroke-width="1.1"/>
<text x="14.00" y="771.70" font-size="10.3" fill="#111" stroke="#111" stroke-width="0.4" text-anchor="end" textLength="5.15" lengthAdjust="spacingAndGlyphs">0</text>
<text x="14.00" y="747.31" font-size="10.3" fill="#111" stroke="#111" stroke-width="0.4" text-anchor="end" textLength="12.89" lengthAdjust="spacingAndGlyphs">0.5</text>
<text x="14.00" y="722.93" font-size="10.3" fill="#111" stroke="#111" stroke-width="0.4" text-anchor="end" textLength="5.15" lengthAdjust="spacingAndGlyphs">1</text>
<text x="14.00" y="698.54" font-size="10.3" fill="#111" stroke="#111" stroke-width="0.4" text-anchor="end" textLength="12.89" lengthAdjust="spacingAndGlyphs">1.5</text>
<text x="14.00" y="674.16" font-size="10.3" fill="#111" stroke="#111" stroke-width="0.4" text-anchor="end" textLength="5.15" lengthAdjust="spacingAndGlyphs">2</text>
<text x="14.00" y="649.77" font-size="10.3" fill="#111" stroke="#111" stroke-width="0.4" text-anchor="end" textLength="12.89" lengthAdjust="spacingAndGlyphs">2.5</text>
<text x="14.00" y="625.39" font-size="10.3" fill="#111" stroke="#111" stroke-width="0.4" text-anchor="end" textLength="5.15" lengthAdjust="spacingAndGlyphs">3</text>
<text x="14.00" y="601.00" font-size="10.3" fill="#111" stroke="#111" stroke-width="0.4" text-anchor="end" textLength="12.89" lengthAdjust="spacingAndGlyphs">3.5</text>
<line x1="21.30" y1="768.90" x2="190.60" y2="768.90" stroke="#111" stroke-width="1.3"/>
<line x1="30.72" y1="767.90" x2="30.72" y2="771.50" stroke="#111" stroke-width="1.1"/>
<line x1="40.11" y1="767.90" x2="40.11" y2="771.50" stroke="#111" stroke-width="1.1"/>
<line x1="49.50" y1="764.90" x2="49.50" y2="773.30" stroke="#111" stroke-width="1.2"/>
<line x1="58.89" y1="767.90" x2="58.89" y2="771.50" stroke="#111" stroke-width="1.1"/>
<line x1="68.28" y1="767.90" x2="68.28" y2="771.50" stroke="#111" stroke-width="1.1"/>
<line x1="77.67" y1="767.90" x2="77.67" y2="771.50" stroke="#111" stroke-width="1.1"/>
<line x1="87.07" y1="764.90" x2="87.07" y2="773.30" stroke="#111" stroke-width="1.2"/>
<line x1="96.46" y1="767.90" x2="96.46" y2="771.50" stroke="#111" stroke-width="1.1"/>
<line x1="105.85" y1="767.90" x2="105.85" y2="771.50" stroke="#111" stroke-width="1.1"/>
<line x1="115.24" y1="767.90" x2="115.24" y2="771.50" stroke="#111" stroke-width="1.1"/>
<line x1="124.63" y1="764.90" x2="124.63" y2="773.30" stroke="#111" stroke-width="1.2"/>
<line x1="134.02" y1="767.90" x2="134.02" y2="771.50" stroke="#111" stroke-width="1.1"/>
<line x1="143.42" y1="767.90" x2="143.42" y2="771.50" stroke="#111" stroke-width="1.1"/>
<line x1="152.81" y1="767.90" x2="152.81" y2="771.50" stroke="#111" stroke-width="1.1"/>
<line x1="162.20" y1="764.90" x2="162.20" y2="773.30" stroke="#111" stroke-width="1.2"/>
<line x1="171.59" y1="767.90" x2="171.59" y2="771.50" stroke="#111" stroke-width="1.1"/>
<line x1="180.98" y1="767.90" x2="180.98" y2="771.50" stroke="#111" stroke-width="1.1"/>
<line x1="190.38" y1="767.90" x2="190.38" y2="771.50" stroke="#111" stroke-width="1.1"/>
<text x="49.50" y="783.90" font-size="9.8" fill="#111" stroke="#111" stroke-width="0.45" text-anchor="middle">40.4</text>
<text x="87.00" y="783.90" font-size="9.8" fill="#111" stroke="#111" stroke-width="0.45" text-anchor="middle">40.6</text>
<text x="124.70" y="783.90" font-size="9.8" fill="#111" stroke="#111" stroke-width="0.45" text-anchor="middle">40.8</text>
<text x="162.20" y="783.90" font-size="9.8" fill="#111" stroke="#111" stroke-width="0.45" text-anchor="middle">41.0</text>
<line x1="82.49" y1="633.24" x2="82.49" y2="760.65" stroke="#222" stroke-width="1.6" stroke-dasharray="8.2 4.3"/>
<line x1="82.49" y1="760.65" x2="82.49" y2="768.90" stroke="#222" stroke-width="1.2"/>
<line x1="140.24" y1="633.24" x2="140.24" y2="760.65" stroke="#222" stroke-width="1.6" stroke-dasharray="8.2 4.3"/>
<line x1="140.24" y1="760.65" x2="140.24" y2="768.90" stroke="#222" stroke-width="1.2"/>
<path d="M20.16 768.35 C28.41 768.35 60.19 768.72 69.66 768.35 C79.13 767.98 75.01 766.98 76.99 766.15 C78.98 765.33 80.05 765.23 81.58 763.40 C83.10 761.57 84.78 758.97 86.16 755.15 C87.53 751.33 88.60 745.99 89.83 740.49 C91.05 734.99 92.27 728.57 93.49 722.15 C94.71 715.74 95.94 707.79 97.16 701.99 C98.38 696.18 99.69 690.68 100.82 687.32 C101.96 683.96 103.02 682.13 103.94 681.82 C104.86 681.52 105.47 682.74 106.32 685.49 C107.18 688.24 108.16 693.43 109.07 698.32 C109.99 703.21 110.82 709.32 111.82 714.82 C112.83 720.32 113.90 726.13 115.12 731.32 C116.35 736.51 117.57 741.71 119.16 745.99 C120.75 750.26 122.52 754.23 124.66 756.98 C126.79 759.73 128.93 761.20 131.99 762.48 C135.04 763.77 139.02 764.13 142.99 764.68 C146.96 765.23 147.88 765.39 155.82 765.78 C163.76 766.18 184.85 766.85 190.65 767.07" fill="none" stroke="#3b439f" stroke-width="2.2" stroke-linejoin="round" stroke-linecap="round"/>
<path d="M20.16 767.98 C27.19 767.98 54.08 768.44 62.33 767.98 C70.58 767.53 67.52 766.00 69.66 765.23 C71.80 764.47 73.33 763.86 75.16 763.40 C76.99 762.94 79.13 762.94 80.66 762.48 C82.19 762.03 83.26 762.18 84.33 760.65 C85.40 759.12 86.16 756.37 87.08 753.32 C87.99 750.26 88.76 746.90 89.83 742.32 C90.90 737.74 92.42 731.63 93.49 725.82 C94.56 720.02 95.17 715.74 96.24 707.49 C97.31 699.24 98.99 685.18 99.91 676.32 C100.82 667.46 101.13 659.83 101.74 654.33 C102.35 648.83 102.87 646.99 103.57 643.33 C104.28 639.66 105.19 633.70 105.96 632.33 C106.72 630.95 107.33 632.33 108.16 635.08 C108.98 637.83 109.99 643.48 110.91 648.83 C111.82 654.17 112.74 660.74 113.66 667.16 C114.57 673.57 115.49 680.91 116.41 687.32 C117.32 693.74 118.24 699.85 119.16 705.66 C120.07 711.46 120.84 716.65 121.91 722.15 C122.98 727.65 124.20 733.76 125.57 738.65 C126.95 743.54 128.48 747.97 130.16 751.48 C131.84 755.00 133.52 757.75 135.66 759.73 C137.79 761.72 140.24 762.48 142.99 763.40 C145.74 764.32 148.49 764.71 152.15 765.23 C155.82 765.75 158.57 766.21 164.99 766.52 C171.40 766.82 186.37 766.98 190.65 767.07" fill="none" stroke="#d02a1a" stroke-width="2.2" stroke-linejoin="round" stroke-linecap="round"/>
<path d="M102.66 631.41 L91.66 628.21 L91.66 634.61 Z" fill="#000" stroke="none" stroke-width="1"/>
<path d="M100.46 680.54 L89.46 677.34 L89.46 683.74 Z" fill="#000" stroke="none" stroke-width="1"/>
<text x="248.75" y="570.50" font-size="18.5" fill="#555" stroke="#555" stroke-width="0.45" textLength="95.50" lengthAdjust="spacingAndGlyphs">LSFISEGEIK</text>
<text x="278.75" y="585.50" font-size="10.6" fill="#555" stroke="#555" stroke-width="0.4" textLength="34.50" lengthAdjust="spacingAndGlyphs">ORF1p</text>
<text x="200.00" y="582.80" font-size="10.2" fill="#111" stroke="#111" stroke-width="0.5" textLength="17.50" lengthAdjust="spacingAndGlyphs">x 10</text>
<text x="218.90" y="579.20" font-size="5.8" fill="#111" stroke="#111" stroke-width="0.3">6</text>
<line x1="198.30" y1="587.00" x2="223.00" y2="587.00" stroke="#111" stroke-width="1.75"/>
<line x1="221.00" y1="598.20" x2="221.00" y2="769.50" stroke="#111" stroke-width="1.25"/>
<line x1="216.50" y1="769.00" x2="225.50" y2="769.00" stroke="#111" stroke-width="1.1"/>
<line x1="218.60" y1="762.17" x2="223.40" y2="762.17" stroke="#111" stroke-width="1.0"/>
<line x1="218.60" y1="755.34" x2="223.40" y2="755.34" stroke="#111" stroke-width="1.0"/>
<line x1="218.60" y1="748.50" x2="223.40" y2="748.50" stroke="#111" stroke-width="1.0"/>
<line x1="218.60" y1="741.67" x2="223.40" y2="741.67" stroke="#111" stroke-width="1.0"/>
<line x1="216.50" y1="734.84" x2="225.50" y2="734.84" stroke="#111" stroke-width="1.1"/>
<line x1="218.60" y1="728.01" x2="223.40" y2="728.01" stroke="#111" stroke-width="1.0"/>
<line x1="218.60" y1="721.18" x2="223.40" y2="721.18" stroke="#111" stroke-width="1.0"/>
<line x1="218.60" y1="714.34" x2="223.40" y2="714.34" stroke="#111" stroke-width="1.0"/>
<line x1="218.60" y1="707.51" x2="223.40" y2="707.51" stroke="#111" stroke-width="1.0"/>
<line x1="216.50" y1="700.68" x2="225.50" y2="700.68" stroke="#111" stroke-width="1.1"/>
<line x1="218.60" y1="693.85" x2="223.40" y2="693.85" stroke="#111" stroke-width="1.0"/>
<line x1="218.60" y1="687.02" x2="223.40" y2="687.02" stroke="#111" stroke-width="1.0"/>
<line x1="218.60" y1="680.18" x2="223.40" y2="680.18" stroke="#111" stroke-width="1.0"/>
<line x1="218.60" y1="673.35" x2="223.40" y2="673.35" stroke="#111" stroke-width="1.0"/>
<line x1="216.50" y1="666.52" x2="225.50" y2="666.52" stroke="#111" stroke-width="1.1"/>
<line x1="218.60" y1="659.69" x2="223.40" y2="659.69" stroke="#111" stroke-width="1.0"/>
<line x1="218.60" y1="652.86" x2="223.40" y2="652.86" stroke="#111" stroke-width="1.0"/>
<line x1="218.60" y1="646.02" x2="223.40" y2="646.02" stroke="#111" stroke-width="1.0"/>
<line x1="218.60" y1="639.19" x2="223.40" y2="639.19" stroke="#111" stroke-width="1.0"/>
<line x1="216.50" y1="632.36" x2="225.50" y2="632.36" stroke="#111" stroke-width="1.1"/>
<line x1="218.60" y1="625.53" x2="223.40" y2="625.53" stroke="#111" stroke-width="1.0"/>
<line x1="218.60" y1="618.70" x2="223.40" y2="618.70" stroke="#111" stroke-width="1.0"/>
<line x1="218.60" y1="611.86" x2="223.40" y2="611.86" stroke="#111" stroke-width="1.0"/>
<line x1="218.60" y1="605.03" x2="223.40" y2="605.03" stroke="#111" stroke-width="1.0"/>
<line x1="216.50" y1="598.20" x2="225.50" y2="598.20" stroke="#111" stroke-width="1.1"/>
<text x="213.10" y="771.90" font-size="10.3" fill="#111" stroke="#111" stroke-width="0.4" text-anchor="end" textLength="5.15" lengthAdjust="spacingAndGlyphs">0</text>
<text x="213.10" y="737.74" font-size="10.3" fill="#111" stroke="#111" stroke-width="0.4" text-anchor="end" textLength="12.89" lengthAdjust="spacingAndGlyphs">0.5</text>
<text x="213.10" y="703.58" font-size="10.3" fill="#111" stroke="#111" stroke-width="0.4" text-anchor="end" textLength="5.15" lengthAdjust="spacingAndGlyphs">1</text>
<text x="213.10" y="669.42" font-size="10.3" fill="#111" stroke="#111" stroke-width="0.4" text-anchor="end" textLength="12.89" lengthAdjust="spacingAndGlyphs">1.5</text>
<text x="213.10" y="635.26" font-size="10.3" fill="#111" stroke="#111" stroke-width="0.4" text-anchor="end" textLength="5.15" lengthAdjust="spacingAndGlyphs">2</text>
<text x="213.10" y="601.10" font-size="10.3" fill="#111" stroke="#111" stroke-width="0.4" text-anchor="end" textLength="12.89" lengthAdjust="spacingAndGlyphs">2.5</text>
<line x1="220.40" y1="769.00" x2="389.60" y2="769.00" stroke="#111" stroke-width="1.3"/>
<line x1="230.00" y1="765.00" x2="230.00" y2="773.40" stroke="#111" stroke-width="1.2"/>
<line x1="240.12" y1="768.00" x2="240.12" y2="771.60" stroke="#111" stroke-width="1.1"/>
<line x1="250.23" y1="768.00" x2="250.23" y2="771.60" stroke="#111" stroke-width="1.1"/>
<line x1="260.35" y1="768.00" x2="260.35" y2="771.60" stroke="#111" stroke-width="1.1"/>
<line x1="270.47" y1="765.00" x2="270.47" y2="773.40" stroke="#111" stroke-width="1.2"/>
<line x1="280.58" y1="768.00" x2="280.58" y2="771.60" stroke="#111" stroke-width="1.1"/>
<line x1="290.70" y1="768.00" x2="290.70" y2="771.60" stroke="#111" stroke-width="1.1"/>
<line x1="300.82" y1="768.00" x2="300.82" y2="771.60" stroke="#111" stroke-width="1.1"/>
<line x1="310.93" y1="765.00" x2="310.93" y2="773.40" stroke="#111" stroke-width="1.2"/>
<line x1="321.05" y1="768.00" x2="321.05" y2="771.60" stroke="#111" stroke-width="1.1"/>
<line x1="331.17" y1="768.00" x2="331.17" y2="771.60" stroke="#111" stroke-width="1.1"/>
<line x1="341.28" y1="768.00" x2="341.28" y2="771.60" stroke="#111" stroke-width="1.1"/>
<line x1="351.40" y1="765.00" x2="351.40" y2="773.40" stroke="#111" stroke-width="1.2"/>
<line x1="361.52" y1="768.00" x2="361.52" y2="771.60" stroke="#111" stroke-width="1.1"/>
<line x1="371.63" y1="768.00" x2="371.63" y2="771.60" stroke="#111" stroke-width="1.1"/>
<line x1="381.75" y1="768.00" x2="381.75" y2="771.60" stroke="#111" stroke-width="1.1"/>
<text x="230.00" y="784.00" font-size="9.8" fill="#111" stroke="#111" stroke-width="0.45" text-anchor="middle">60.2</text>
<text x="270.70" y="784.00" font-size="9.8" fill="#111" stroke="#111" stroke-width="0.45" text-anchor="middle">60.4</text>
<text x="311.00" y="784.00" font-size="9.8" fill="#111" stroke="#111" stroke-width="0.45" text-anchor="middle">60.6</text>
<text x="351.40" y="784.00" font-size="9.8" fill="#111" stroke="#111" stroke-width="0.45" text-anchor="middle">60.8</text>
<line x1="262.08" y1="639.33" x2="262.08" y2="702.06" stroke="#222" stroke-width="1.6" stroke-dasharray="8.2 4.3"/>
<line x1="262.08" y1="702.06" x2="262.08" y2="769.00" stroke="#222" stroke-width="1.2"/>
<line x1="343.71" y1="639.33" x2="343.71" y2="702.06" stroke="#222" stroke-width="1.6" stroke-dasharray="8.2 4.3"/>
<line x1="343.71" y1="702.06" x2="343.71" y2="769.00" stroke="#222" stroke-width="1.2"/>
<path d="M220.26 768.09 C227.14 768.15 253.74 768.83 261.53 768.46 C269.33 768.09 265.35 767.18 267.04 765.89 C268.72 764.61 270.09 763.14 271.62 760.76 C273.15 758.37 274.68 755.86 276.21 751.58 C277.74 747.30 279.26 740.58 280.79 735.08 C282.32 729.57 284.00 722.54 285.38 718.57 C286.75 714.60 288.04 712.91 289.05 711.23 C290.06 709.55 290.51 708.18 291.43 708.48 C292.35 708.79 293.42 710.47 294.55 713.07 C295.68 715.67 296.84 720.10 298.22 724.07 C299.59 728.05 301.27 732.63 302.80 736.91 C304.33 741.19 305.71 746.08 307.39 749.75 C309.07 753.42 310.75 756.78 312.89 758.92 C315.03 761.06 317.48 761.52 320.23 762.59 C322.98 763.66 325.12 764.58 329.40 765.34 C333.68 766.11 335.88 766.72 345.91 767.18 C355.93 767.63 382.28 767.94 389.56 768.09" fill="none" stroke="#3b439f" stroke-width="2.2" stroke-linejoin="round" stroke-linecap="round"/>
<path d="M220.26 767.18 C224.39 767.33 238.15 767.94 245.03 768.09 C251.90 768.25 258.17 768.55 261.53 768.09 C264.90 767.63 263.98 766.56 265.20 765.34 C266.42 764.12 267.65 762.74 268.87 760.76 C270.09 758.77 271.32 757.09 272.54 753.42 C273.76 749.75 274.98 744.55 276.21 738.75 C277.43 732.94 278.65 725.60 279.88 718.57 C281.10 711.54 282.47 704.20 283.54 696.56 C284.61 688.92 285.38 680.66 286.29 672.71 C287.21 664.77 288.19 654.53 289.05 648.87 C289.90 643.21 290.67 639.70 291.43 638.78 C292.19 637.87 292.81 641.07 293.63 643.37 C294.46 645.66 295.31 648.56 296.38 652.54 C297.45 656.51 298.83 661.10 300.05 667.21 C301.27 673.33 302.50 681.89 303.72 689.22 C304.94 696.56 306.17 704.20 307.39 711.23 C308.61 718.26 309.83 725.60 311.06 731.41 C312.28 737.22 313.50 742.41 314.72 746.08 C315.95 749.75 317.17 751.58 318.39 753.42 C319.62 755.25 320.23 755.71 322.06 757.09 C323.90 758.46 326.95 760.45 329.40 761.67 C331.84 762.90 334.29 763.72 336.74 764.42 C339.18 765.13 341.01 765.52 344.07 765.89 C347.13 766.26 350.19 766.41 355.08 766.63 C359.97 766.84 367.67 766.99 373.42 767.18 C379.17 767.36 386.87 767.63 389.56 767.73" fill="none" stroke="#d02a1a" stroke-width="2.2" stroke-linejoin="round" stroke-linecap="round"/>
<path d="M288.13 637.87 L277.13 634.67 L277.13 641.07 Z" fill="#000" stroke="none" stroke-width="1"/>
<path d="M288.13 707.56 L277.13 704.36 L277.13 710.76 Z" fill="#000" stroke="none" stroke-width="1"/>
<text x="480.00" y="570.50" font-size="18.5" fill="#555" stroke="#555" stroke-width="0.45" textLength="82.00" lengthAdjust="spacingAndGlyphs">NLEECITR</text>
<text x="503.75" y="585.50" font-size="10.6" fill="#555" stroke="#555" stroke-width="0.4" textLength="35.00" lengthAdjust="spacingAndGlyphs">ORF1p</text>
<text x="420.00" y="585.60" font-size="10.2" fill="#111" stroke="#111" stroke-width="0.5" textLength="17.50" lengthAdjust="spacingAndGlyphs">x 10</text>
<text x="438.90" y="582.00" font-size="5.8" fill="#111" stroke="#111" stroke-width="0.3">6</text>
<line x1="418.00" y1="589.30" x2="441.80" y2="589.30" stroke="#111" stroke-width="1.75"/>
<line x1="438.30" y1="600.50" x2="438.30" y2="770.10" stroke="#111" stroke-width="1.25"/>
<line x1="433.80" y1="769.60" x2="442.80" y2="769.60" stroke="#111" stroke-width="1.1"/>
<line x1="435.90" y1="762.55" x2="440.70" y2="762.55" stroke="#111" stroke-width="1.0"/>
<line x1="435.90" y1="755.51" x2="440.70" y2="755.51" stroke="#111" stroke-width="1.0"/>
<line x1="435.90" y1="748.46" x2="440.70" y2="748.46" stroke="#111" stroke-width="1.0"/>
<line x1="433.80" y1="741.42" x2="442.80" y2="741.42" stroke="#111" stroke-width="1.1"/>
<line x1="435.90" y1="734.37" x2="440.70" y2="734.37" stroke="#111" stroke-width="1.0"/>
<line x1="435.90" y1="727.33" x2="440.70" y2="727.33" stroke="#111" stroke-width="1.0"/>
<line x1="435.90" y1="720.28" x2="440.70" y2="720.28" stroke="#111" stroke-width="1.0"/>
<line x1="433.80" y1="713.23" x2="442.80" y2="713.23" stroke="#111" stroke-width="1.1"/>
<line x1="435.90" y1="706.19" x2="440.70" y2="706.19" stroke="#111" stroke-width="1.0"/>
<line x1="435.90" y1="699.14" x2="440.70" y2="699.14" stroke="#111" stroke-width="1.0"/>
<line x1="435.90" y1="692.10" x2="440.70" y2="692.10" stroke="#111" stroke-width="1.0"/>
<line x1="433.80" y1="685.05" x2="442.80" y2="685.05" stroke="#111" stroke-width="1.1"/>
<line x1="435.90" y1="678.00" x2="440.70" y2="678.00" stroke="#111" stroke-width="1.0"/>
<line x1="435.90" y1="670.96" x2="440.70" y2="670.96" stroke="#111" stroke-width="1.0"/>
<line x1="435.90" y1="663.91" x2="440.70" y2="663.91" stroke="#111" stroke-width="1.0"/>
<line x1="433.80" y1="656.87" x2="442.80" y2="656.87" stroke="#111" stroke-width="1.1"/>
<line x1="435.90" y1="649.82" x2="440.70" y2="649.82" stroke="#111" stroke-width="1.0"/>
<line x1="435.90" y1="642.77" x2="440.70" y2="642.77" stroke="#111" stroke-width="1.0"/>
<line x1="435.90" y1="635.73" x2="440.70" y2="635.73" stroke="#111" stroke-width="1.0"/>
<line x1="433.80" y1="628.68" x2="442.80" y2="628.68" stroke="#111" stroke-width="1.1"/>
<line x1="435.90" y1="621.64" x2="440.70" y2="621.64" stroke="#111" stroke-width="1.0"/>
<line x1="435.90" y1="614.59" x2="440.70" y2="614.59" stroke="#111" stroke-width="1.0"/>
<line x1="435.90" y1="607.55" x2="440.70" y2="607.55" stroke="#111" stroke-width="1.0"/>
<line x1="433.80" y1="600.50" x2="442.80" y2="600.50" stroke="#111" stroke-width="1.1"/>
<text x="430.30" y="774.90" font-size="10.3" fill="#111" stroke="#111" stroke-width="0.4" text-anchor="end" textLength="5.15" lengthAdjust="spacingAndGlyphs">0</text>
<text x="430.30" y="746.72" font-size="10.3" fill="#111" stroke="#111" stroke-width="0.4" text-anchor="end" textLength="5.15" lengthAdjust="spacingAndGlyphs">2</text>
<text x="430.30" y="718.53" font-size="10.3" fill="#111" stroke="#111" stroke-width="0.4" text-anchor="end" textLength="5.15" lengthAdjust="spacingAndGlyphs">4</text>
<text x="430.30" y="690.35" font-size="10.3" fill="#111" stroke="#111" stroke-width="0.4" text-anchor="end" textLength="5.15" lengthAdjust="spacingAndGlyphs">6</text>
<text x="430.30" y="662.17" font-size="10.3" fill="#111" stroke="#111" stroke-width="0.4" text-anchor="end" textLength="5.15" lengthAdjust="spacingAndGlyphs">8</text>
<text x="430.30" y="633.98" font-size="10.3" fill="#111" stroke="#111" stroke-width="0.4" text-anchor="end" textLength="10.31" lengthAdjust="spacingAndGlyphs">10</text>
<text x="430.30" y="605.80" font-size="10.3" fill="#111" stroke="#111" stroke-width="0.4" text-anchor="end" textLength="10.31" lengthAdjust="spacingAndGlyphs">12</text>
<line x1="437.70" y1="769.60" x2="608.00" y2="769.60" stroke="#111" stroke-width="1.3"/>
<line x1="444.06" y1="768.60" x2="444.06" y2="772.20" stroke="#111" stroke-width="1.1"/>
<line x1="453.93" y1="768.60" x2="453.93" y2="772.20" stroke="#111" stroke-width="1.1"/>
<line x1="463.80" y1="765.60" x2="463.80" y2="774.00" stroke="#111" stroke-width="1.2"/>
<line x1="473.67" y1="768.60" x2="473.67" y2="772.20" stroke="#111" stroke-width="1.1"/>
<line x1="483.54" y1="768.60" x2="483.54" y2="772.20" stroke="#111" stroke-width="1.1"/>
<line x1="493.41" y1="768.60" x2="493.41" y2="772.20" stroke="#111" stroke-width="1.1"/>
<line x1="503.28" y1="768.60" x2="503.28" y2="772.20" stroke="#111" stroke-width="1.1"/>
<line x1="513.15" y1="765.60" x2="513.15" y2="774.00" stroke="#111" stroke-width="1.2"/>
<line x1="523.02" y1="768.60" x2="523.02" y2="772.20" stroke="#111" stroke-width="1.1"/>
<line x1="532.89" y1="768.60" x2="532.89" y2="772.20" stroke="#111" stroke-width="1.1"/>
<line x1="542.76" y1="768.60" x2="542.76" y2="772.20" stroke="#111" stroke-width="1.1"/>
<line x1="552.63" y1="768.60" x2="552.63" y2="772.20" stroke="#111" stroke-width="1.1"/>
<line x1="562.50" y1="765.60" x2="562.50" y2="774.00" stroke="#111" stroke-width="1.2"/>
<line x1="572.37" y1="768.60" x2="572.37" y2="772.20" stroke="#111" stroke-width="1.1"/>
<line x1="582.24" y1="768.60" x2="582.24" y2="772.20" stroke="#111" stroke-width="1.1"/>
<line x1="592.11" y1="768.60" x2="592.11" y2="772.20" stroke="#111" stroke-width="1.1"/>
<line x1="601.98" y1="768.60" x2="601.98" y2="772.20" stroke="#111" stroke-width="1.1"/>
<text x="463.80" y="784.60" font-size="9.8" fill="#111" stroke="#111" stroke-width="0.45" text-anchor="middle">39.5</text>
<text x="513.30" y="784.60" font-size="9.8" fill="#111" stroke="#111" stroke-width="0.45" text-anchor="middle">40.0</text>
<text x="562.50" y="784.60" font-size="9.8" fill="#111" stroke="#111" stroke-width="0.45" text-anchor="middle">40.5</text>
<line x1="504.68" y1="619.52" x2="504.68" y2="753.42" stroke="#222" stroke-width="1.6" stroke-dasharray="8.2 4.3"/>
<line x1="504.68" y1="753.42" x2="504.68" y2="769.60" stroke="#222" stroke-width="1.2"/>
<line x1="550.91" y1="619.52" x2="550.91" y2="753.42" stroke="#222" stroke-width="1.6" stroke-dasharray="8.2 4.3"/>
<line x1="550.91" y1="753.42" x2="550.91" y2="769.60" stroke="#222" stroke-width="1.2"/>
<path d="M438.10 769.38 C450.03 769.38 497.26 769.90 509.64 769.38 C522.02 768.86 511.47 767.70 512.39 766.26 C513.31 764.82 514.07 762.74 515.14 760.76 C516.21 758.77 517.65 755.71 518.81 754.34 C519.97 752.96 521.04 752.35 522.11 752.50 C523.18 752.65 524.10 753.57 525.23 755.25 C526.36 756.93 527.37 760.60 528.90 762.59 C530.42 764.58 532.26 766.20 534.40 767.18 C536.54 768.15 529.97 768.15 541.74 768.46 C553.50 768.76 593.97 768.92 605.01 769.01 C616.06 769.10 607.50 769.01 608.00 769.01" fill="none" stroke="#3b439f" stroke-width="2.2" stroke-linejoin="round" stroke-linecap="round"/>
<path d="M438.10 769.01 C449.26 769.01 493.13 769.16 505.05 769.01 C516.97 768.86 508.41 770.69 509.64 768.09 C510.86 765.49 511.47 760.45 512.39 753.42 C513.31 746.39 514.28 736.61 515.14 725.91 C516.00 715.21 516.76 701.45 517.52 689.22 C518.29 676.99 518.99 663.24 519.72 652.54 C520.46 641.84 521.22 630.47 521.93 625.03 C522.63 619.58 523.33 619.89 523.94 619.89 C524.55 619.89 525.01 621.11 525.59 625.03 C526.18 628.94 526.73 634.20 527.43 643.37 C528.13 652.54 528.96 667.82 529.81 680.05 C530.67 692.28 531.65 706.04 532.56 716.74 C533.48 727.43 534.25 737.22 535.32 744.25 C536.39 751.28 537.61 755.71 538.98 758.92 C540.36 762.13 541.58 762.28 543.57 763.51 C545.56 764.73 548.15 765.56 550.91 766.26 C553.66 766.96 551.06 767.42 560.08 767.73 C569.10 768.03 597.03 768.03 605.01 768.09 C613.00 768.15 607.50 768.09 608.00 768.09" fill="none" stroke="#d02a1a" stroke-width="2.2" stroke-linejoin="round" stroke-linecap="round"/>
<path d="M520.64 618.61 L509.64 615.41 L509.64 621.81 Z" fill="#000" stroke="none" stroke-width="1"/>
<path d="M518.81 751.58 L507.81 748.38 L507.81 754.78 Z" fill="#000" stroke="none" stroke-width="1"/>
<text x="674.25" y="570.50" font-size="18.5" fill="#555" stroke="#555" stroke-width="0.45" textLength="95.25" lengthAdjust="spacingAndGlyphs">LSFISEGEIK</text>
<text x="704.50" y="585.50" font-size="10.6" fill="#555" stroke="#555" stroke-width="0.4" textLength="34.25" lengthAdjust="spacingAndGlyphs">ORF1p</text>
<text x="616.50" y="586.00" font-size="10.2" fill="#111" stroke="#111" stroke-width="0.5" textLength="17.50" lengthAdjust="spacingAndGlyphs">x 10</text>
<text x="635.40" y="582.40" font-size="5.8" fill="#111" stroke="#111" stroke-width="0.3">6</text>
<line x1="614.80" y1="590.50" x2="638.50" y2="590.50" stroke="#111" stroke-width="1.75"/>
<line x1="635.10" y1="599.50" x2="635.10" y2="769.50" stroke="#111" stroke-width="1.25"/>
<line x1="630.60" y1="769.00" x2="639.60" y2="769.00" stroke="#111" stroke-width="1.1"/>
<line x1="632.70" y1="764.21" x2="637.50" y2="764.21" stroke="#111" stroke-width="1.0"/>
<line x1="632.70" y1="759.43" x2="637.50" y2="759.43" stroke="#111" stroke-width="1.0"/>
<line x1="632.70" y1="754.64" x2="637.50" y2="754.64" stroke="#111" stroke-width="1.0"/>
<line x1="632.70" y1="749.86" x2="637.50" y2="749.86" stroke="#111" stroke-width="1.0"/>
<line x1="630.60" y1="745.07" x2="639.60" y2="745.07" stroke="#111" stroke-width="1.1"/>
<line x1="632.70" y1="740.29" x2="637.50" y2="740.29" stroke="#111" stroke-width="1.0"/>
<line x1="632.70" y1="735.50" x2="637.50" y2="735.50" stroke="#111" stroke-width="1.0"/>
<line x1="632.70" y1="730.71" x2="637.50" y2="730.71" stroke="#111" stroke-width="1.0"/>
<line x1="632.70" y1="725.93" x2="637.50" y2="725.93" stroke="#111" stroke-width="1.0"/>
<line x1="630.60" y1="721.14" x2="639.60" y2="721.14" stroke="#111" stroke-width="1.1"/>
<line x1="632.70" y1="716.36" x2="637.50" y2="716.36" stroke="#111" stroke-width="1.0"/>
<line x1="632.70" y1="711.57" x2="637.50" y2="711.57" stroke="#111" stroke-width="1.0"/>
<line x1="632.70" y1="706.79" x2="637.50" y2="706.79" stroke="#111" stroke-width="1.0"/>
<line x1="632.70" y1="702.00" x2="637.50" y2="702.00" stroke="#111" stroke-width="1.0"/>
<line x1="630.60" y1="697.21" x2="639.60" y2="697.21" stroke="#111" stroke-width="1.1"/>
<line x1="632.70" y1="692.43" x2="637.50" y2="692.43" stroke="#111" stroke-width="1.0"/>
<line x1="632.70" y1="687.64" x2="637.50" y2="687.64" stroke="#111" stroke-width="1.0"/>
<line x1="632.70" y1="682.86" x2="637.50" y2="682.86" stroke="#111" stroke-width="1.0"/>
<line x1="632.70" y1="678.07" x2="637.50" y2="678.07" stroke="#111" stroke-width="1.0"/>
<line x1="630.60" y1="673.29" x2="639.60" y2="673.29" stroke="#111" stroke-width="1.1"/>
<line x1="632.70" y1="668.50" x2="637.50" y2="668.50" stroke="#111" stroke-width="1.0"/>
<line x1="632.70" y1="663.71" x2="637.50" y2="663.71" stroke="#111" stroke-width="1.0"/>
<line x1="632.70" y1="658.93" x2="637.50" y2="658.93" stroke="#111" stroke-width="1.0"/>
<line x1="632.70" y1="654.14" x2="637.50" y2="654.14" stroke="#111" stroke-width="1.0"/>
<line x1="630.60" y1="649.36" x2="639.60" y2="649.36" stroke="#111" stroke-width="1.1"/>
<line x1="632.70" y1="644.57" x2="637.50" y2="644.57" stroke="#111" stroke-width="1.0"/>
<line x1="632.70" y1="639.79" x2="637.50" y2="639.79" stroke="#111" stroke-width="1.0"/>
<line x1="632.70" y1="635.00" x2="637.50" y2="635.00" stroke="#111" stroke-width="1.0"/>
<line x1="632.70" y1="630.21" x2="637.50" y2="630.21" stroke="#111" stroke-width="1.0"/>
<line x1="630.60" y1="625.43" x2="639.60" y2="625.43" stroke="#111" stroke-width="1.1"/>
<line x1="632.70" y1="620.64" x2="637.50" y2="620.64" stroke="#111" stroke-width="1.0"/>
<line x1="632.70" y1="615.86" x2="637.50" y2="615.86" stroke="#111" stroke-width="1.0"/>
<line x1="632.70" y1="611.07" x2="637.50" y2="611.07" stroke="#111" stroke-width="1.0"/>
<line x1="632.70" y1="606.29" x2="637.50" y2="606.29" stroke="#111" stroke-width="1.0"/>
<line x1="630.60" y1="601.50" x2="639.60" y2="601.50" stroke="#111" stroke-width="1.1"/>
<text x="627.30" y="770.10" font-size="10.3" fill="#111" stroke="#111" stroke-width="0.4" text-anchor="end" textLength="5.15" lengthAdjust="spacingAndGlyphs">0</text>
<text x="627.30" y="746.17" font-size="10.3" fill="#111" stroke="#111" stroke-width="0.4" text-anchor="end" textLength="5.15" lengthAdjust="spacingAndGlyphs">1</text>
<text x="627.30" y="722.24" font-size="10.3" fill="#111" stroke="#111" stroke-width="0.4" text-anchor="end" textLength="5.15" lengthAdjust="spacingAndGlyphs">2</text>
<text x="627.30" y="698.31" font-size="10.3" fill="#111" stroke="#111" stroke-width="0.4" text-anchor="end" textLength="5.15" lengthAdjust="spacingAndGlyphs">3</text>
<text x="627.30" y="674.39" font-size="10.3" fill="#111" stroke="#111" stroke-width="0.4" text-anchor="end" textLength="5.15" lengthAdjust="spacingAndGlyphs">4</text>
<text x="627.30" y="650.46" font-size="10.3" fill="#111" stroke="#111" stroke-width="0.4" text-anchor="end" textLength="5.15" lengthAdjust="spacingAndGlyphs">5</text>
<text x="627.30" y="626.53" font-size="10.3" fill="#111" stroke="#111" stroke-width="0.4" text-anchor="end" textLength="5.15" lengthAdjust="spacingAndGlyphs">6</text>
<text x="627.30" y="602.60" font-size="10.3" fill="#111" stroke="#111" stroke-width="0.4" text-anchor="end" textLength="5.15" lengthAdjust="spacingAndGlyphs">7</text>
<line x1="634.50" y1="769.00" x2="808.00" y2="769.00" stroke="#111" stroke-width="1.3"/>
<line x1="641.48" y1="768.00" x2="641.48" y2="771.60" stroke="#111" stroke-width="1.1"/>
<line x1="652.11" y1="768.00" x2="652.11" y2="771.60" stroke="#111" stroke-width="1.1"/>
<line x1="662.74" y1="768.00" x2="662.74" y2="771.60" stroke="#111" stroke-width="1.1"/>
<line x1="673.37" y1="768.00" x2="673.37" y2="771.60" stroke="#111" stroke-width="1.1"/>
<line x1="684.00" y1="765.00" x2="684.00" y2="773.40" stroke="#111" stroke-width="1.2"/>
<line x1="694.63" y1="768.00" x2="694.63" y2="771.60" stroke="#111" stroke-width="1.1"/>
<line x1="705.26" y1="768.00" x2="705.26" y2="771.60" stroke="#111" stroke-width="1.1"/>
<line x1="715.89" y1="768.00" x2="715.89" y2="771.60" stroke="#111" stroke-width="1.1"/>
<line x1="726.52" y1="768.00" x2="726.52" y2="771.60" stroke="#111" stroke-width="1.1"/>
<line x1="737.15" y1="765.00" x2="737.15" y2="773.40" stroke="#111" stroke-width="1.2"/>
<line x1="747.78" y1="768.00" x2="747.78" y2="771.60" stroke="#111" stroke-width="1.1"/>
<line x1="758.41" y1="768.00" x2="758.41" y2="771.60" stroke="#111" stroke-width="1.1"/>
<line x1="769.04" y1="768.00" x2="769.04" y2="771.60" stroke="#111" stroke-width="1.1"/>
<line x1="779.67" y1="768.00" x2="779.67" y2="771.60" stroke="#111" stroke-width="1.1"/>
<line x1="790.30" y1="765.00" x2="790.30" y2="773.40" stroke="#111" stroke-width="1.2"/>
<line x1="800.93" y1="768.00" x2="800.93" y2="771.60" stroke="#111" stroke-width="1.1"/>
<text x="684.00" y="784.00" font-size="9.8" fill="#111" stroke="#111" stroke-width="0.45" text-anchor="middle">59.5</text>
<text x="736.60" y="784.00" font-size="9.8" fill="#111" stroke="#111" stroke-width="0.45" text-anchor="middle">60.0</text>
<text x="790.30" y="784.00" font-size="9.8" fill="#111" stroke="#111" stroke-width="0.45" text-anchor="middle">60.5</text>
<line x1="703.58" y1="623.19" x2="703.58" y2="751.58" stroke="#222" stroke-width="1.6" stroke-dasharray="8.2 4.3"/>
<line x1="703.58" y1="751.58" x2="703.58" y2="769.00" stroke="#222" stroke-width="1.2"/>
<line x1="756.78" y1="623.19" x2="756.78" y2="753.42" stroke="#222" stroke-width="1.6" stroke-dasharray="8.2 4.3"/>
<line x1="756.78" y1="753.42" x2="756.78" y2="769.00" stroke="#222" stroke-width="1.2"/>
<path d="M634.44 769.38 C645.59 769.38 689.61 769.53 701.38 769.38 C713.15 769.22 703.68 769.04 705.05 768.46 C706.43 767.88 708.11 766.72 709.64 765.89 C711.17 765.07 712.39 764.21 714.22 763.51 C716.06 762.80 718.81 761.67 720.64 761.67 C722.48 761.67 723.55 762.59 725.23 763.51 C726.91 764.42 728.59 766.26 730.73 767.18 C732.87 768.09 725.69 768.64 738.07 769.01 C750.45 769.38 793.36 769.32 805.01 769.38 C816.67 769.44 807.50 769.38 808.00 769.38" fill="none" stroke="#3b439f" stroke-width="2.2" stroke-linejoin="round" stroke-linecap="round"/>
<path d="M634.44 769.01 C645.90 769.01 691.14 769.47 703.22 769.01 C715.29 768.55 705.82 768.86 706.89 766.26 C707.96 763.66 708.72 760.14 709.64 753.42 C710.55 746.69 711.47 736.61 712.39 725.91 C713.31 715.21 714.28 701.45 715.14 689.22 C716.00 676.99 716.76 662.63 717.52 652.54 C718.29 642.45 718.96 633.49 719.72 628.69 C720.49 623.89 721.35 623.44 722.11 623.74 C722.87 624.05 723.64 626.34 724.31 630.53 C724.98 634.72 725.38 639.09 726.14 648.87 C726.91 658.65 727.98 676.38 728.90 689.22 C729.81 702.06 730.73 715.82 731.65 725.91 C732.56 735.99 733.33 744.25 734.40 749.75 C735.47 755.25 736.54 756.63 738.07 758.92 C739.60 761.21 741.12 762.35 743.57 763.51 C746.01 764.67 749.38 765.19 752.74 765.89 C756.10 766.59 759.47 767.30 763.75 767.73 C768.03 768.15 771.54 768.34 778.42 768.46 C785.30 768.58 800.08 768.46 805.01 768.46 C809.94 768.46 807.50 768.46 808.00 768.46" fill="none" stroke="#d02a1a" stroke-width="2.2" stroke-linejoin="round" stroke-linecap="round"/>
<path d="M719.72 621.91 L708.72 618.71 L708.72 625.11 Z" fill="#000" stroke="none" stroke-width="1"/>
<path d="M717.52 760.76 L706.52 757.56 L706.52 763.96 Z" fill="#000" stroke="none" stroke-width="1"/>
<text x="868.00" y="570.50" font-size="18.5" fill="#555" stroke="#555" stroke-width="0.45" textLength="93.70" lengthAdjust="spacingAndGlyphs">QVLSDLQR</text>
<text x="897.50" y="585.50" font-size="10.6" fill="#555" stroke="#555" stroke-width="0.4" textLength="34.50" lengthAdjust="spacingAndGlyphs">ORF2p</text>
<text x="822.00" y="588.30" font-size="10.2" fill="#111" stroke="#111" stroke-width="0.5" textLength="17.50" lengthAdjust="spacingAndGlyphs">x 10</text>
<text x="840.90" y="584.70" font-size="5.8" fill="#111" stroke="#111" stroke-width="0.3">3</text>
<line x1="819.80" y1="593.00" x2="844.00" y2="593.00" stroke="#111" stroke-width="1.75"/>
<line x1="841.30" y1="600.80" x2="841.30" y2="770.00" stroke="#111" stroke-width="1.25"/>
<line x1="836.80" y1="769.50" x2="845.80" y2="769.50" stroke="#111" stroke-width="1.1"/>
<line x1="838.90" y1="763.88" x2="843.70" y2="763.88" stroke="#111" stroke-width="1.0"/>
<line x1="838.90" y1="758.25" x2="843.70" y2="758.25" stroke="#111" stroke-width="1.0"/>
<line x1="838.90" y1="752.63" x2="843.70" y2="752.63" stroke="#111" stroke-width="1.0"/>
<line x1="838.90" y1="747.01" x2="843.70" y2="747.01" stroke="#111" stroke-width="1.0"/>
<line x1="836.80" y1="741.38" x2="845.80" y2="741.38" stroke="#111" stroke-width="1.1"/>
<line x1="838.90" y1="735.76" x2="843.70" y2="735.76" stroke="#111" stroke-width="1.0"/>
<line x1="838.90" y1="730.14" x2="843.70" y2="730.14" stroke="#111" stroke-width="1.0"/>
<line x1="838.90" y1="724.51" x2="843.70" y2="724.51" stroke="#111" stroke-width="1.0"/>
<line x1="838.90" y1="718.89" x2="843.70" y2="718.89" stroke="#111" stroke-width="1.0"/>
<line x1="836.80" y1="713.27" x2="845.80" y2="713.27" stroke="#111" stroke-width="1.1"/>
<line x1="838.90" y1="707.64" x2="843.70" y2="707.64" stroke="#111" stroke-width="1.0"/>
<line x1="838.90" y1="702.02" x2="843.70" y2="702.02" stroke="#111" stroke-width="1.0"/>
<line x1="838.90" y1="696.40" x2="843.70" y2="696.40" stroke="#111" stroke-width="1.0"/>
<line x1="838.90" y1="690.77" x2="843.70" y2="690.77" stroke="#111" stroke-width="1.0"/>
<line x1="836.80" y1="685.15" x2="845.80" y2="685.15" stroke="#111" stroke-width="1.1"/>
<line x1="838.90" y1="679.53" x2="843.70" y2="679.53" stroke="#111" stroke-width="1.0"/>
<line x1="838.90" y1="673.90" x2="843.70" y2="673.90" stroke="#111" stroke-width="1.0"/>
<line x1="838.90" y1="668.28" x2="843.70" y2="668.28" stroke="#111" stroke-width="1.0"/>
<line x1="838.90" y1="662.66" x2="843.70" y2="662.66" stroke="#111" stroke-width="1.0"/>
<line x1="836.80" y1="657.03" x2="845.80" y2="657.03" stroke="#111" stroke-width="1.1"/>
<line x1="838.90" y1="651.41" x2="843.70" y2="651.41" stroke="#111" stroke-width="1.0"/>
<line x1="838.90" y1="645.79" x2="843.70" y2="645.79" stroke="#111" stroke-width="1.0"/>
<line x1="838.90" y1="640.16" x2="843.70" y2="640.16" stroke="#111" stroke-width="1.0"/>
<line x1="838.90" y1="634.54" x2="843.70" y2="634.54" stroke="#111" stroke-width="1.0"/>
<line x1="836.80" y1="628.92" x2="845.80" y2="628.92" stroke="#111" stroke-width="1.1"/>
<line x1="838.90" y1="623.29" x2="843.70" y2="623.29" stroke="#111" stroke-width="1.0"/>
<line x1="838.90" y1="617.67" x2="843.70" y2="617.67" stroke="#111" stroke-width="1.0"/>
<line x1="838.90" y1="612.05" x2="843.70" y2="612.05" stroke="#111" stroke-width="1.0"/>
<line x1="838.90" y1="606.42" x2="843.70" y2="606.42" stroke="#111" stroke-width="1.0"/>
<line x1="836.80" y1="600.80" x2="845.80" y2="600.80" stroke="#111" stroke-width="1.1"/>
<text x="832.80" y="774.80" font-size="10.3" fill="#111" stroke="#111" stroke-width="0.4" text-anchor="end" textLength="5.15" lengthAdjust="spacingAndGlyphs">0</text>
<text x="832.80" y="746.68" font-size="10.3" fill="#111" stroke="#111" stroke-width="0.4" text-anchor="end" textLength="10.31" lengthAdjust="spacingAndGlyphs">50</text>
<text x="832.80" y="718.57" font-size="10.3" fill="#111" stroke="#111" stroke-width="0.4" text-anchor="end" textLength="15.46" lengthAdjust="spacingAndGlyphs">100</text>
<text x="832.80" y="690.45" font-size="10.3" fill="#111" stroke="#111" stroke-width="0.4" text-anchor="end" textLength="15.46" lengthAdjust="spacingAndGlyphs">150</text>
<text x="832.80" y="662.33" font-size="10.3" fill="#111" stroke="#111" stroke-width="0.4" text-anchor="end" textLength="15.46" lengthAdjust="spacingAndGlyphs">200</text>
<text x="832.80" y="634.22" font-size="10.3" fill="#111" stroke="#111" stroke-width="0.4" text-anchor="end" textLength="15.46" lengthAdjust="spacingAndGlyphs">250</text>
<text x="832.80" y="606.10" font-size="10.3" fill="#111" stroke="#111" stroke-width="0.4" text-anchor="end" textLength="15.46" lengthAdjust="spacingAndGlyphs">300</text>
<line x1="840.70" y1="769.50" x2="1005.00" y2="769.50" stroke="#111" stroke-width="1.3"/>
<line x1="847.02" y1="768.50" x2="847.02" y2="772.10" stroke="#111" stroke-width="1.1"/>
<line x1="858.16" y1="768.50" x2="858.16" y2="772.10" stroke="#111" stroke-width="1.1"/>
<line x1="869.30" y1="765.50" x2="869.30" y2="773.90" stroke="#111" stroke-width="1.2"/>
<line x1="880.44" y1="768.50" x2="880.44" y2="772.10" stroke="#111" stroke-width="1.1"/>
<line x1="891.58" y1="768.50" x2="891.58" y2="772.10" stroke="#111" stroke-width="1.1"/>
<line x1="902.72" y1="768.50" x2="902.72" y2="772.10" stroke="#111" stroke-width="1.1"/>
<line x1="913.86" y1="768.50" x2="913.86" y2="772.10" stroke="#111" stroke-width="1.1"/>
<line x1="925.00" y1="765.50" x2="925.00" y2="773.90" stroke="#111" stroke-width="1.2"/>
<line x1="936.14" y1="768.50" x2="936.14" y2="772.10" stroke="#111" stroke-width="1.1"/>
<line x1="947.28" y1="768.50" x2="947.28" y2="772.10" stroke="#111" stroke-width="1.1"/>
<line x1="958.42" y1="768.50" x2="958.42" y2="772.10" stroke="#111" stroke-width="1.1"/>
<line x1="969.56" y1="768.50" x2="969.56" y2="772.10" stroke="#111" stroke-width="1.1"/>
<line x1="980.70" y1="765.50" x2="980.70" y2="773.90" stroke="#111" stroke-width="1.2"/>
<line x1="991.84" y1="768.50" x2="991.84" y2="772.10" stroke="#111" stroke-width="1.1"/>
<line x1="1002.98" y1="768.50" x2="1002.98" y2="772.10" stroke="#111" stroke-width="1.1"/>
<text x="869.30" y="784.50" font-size="9.8" fill="#111" stroke="#111" stroke-width="0.45" text-anchor="middle">40.5</text>
<text x="925.00" y="784.50" font-size="9.8" fill="#111" stroke="#111" stroke-width="0.45" text-anchor="middle">41.0</text>
<text x="980.70" y="784.50" font-size="9.8" fill="#111" stroke="#111" stroke-width="0.45" text-anchor="middle">41.5</text>
<line x1="897.58" y1="639.33" x2="897.58" y2="672.71" stroke="#222" stroke-width="1.6" stroke-dasharray="8.2 4.3"/>
<line x1="897.58" y1="672.71" x2="897.58" y2="769.50" stroke="#222" stroke-width="1.2"/>
<line x1="941.60" y1="639.33" x2="941.60" y2="687.39" stroke="#222" stroke-width="1.6" stroke-dasharray="8.2 4.3"/>
<line x1="941.60" y1="687.39" x2="941.60" y2="769.50" stroke="#222" stroke-width="1.2"/>
<path d="M840.72 769.01 C849.83 769.07 885.81 769.32 895.38 769.38 C904.95 769.44 897.21 770.20 898.13 769.38 C899.05 768.55 899.96 767.08 900.88 764.42 C901.80 761.76 902.71 758.31 903.63 753.42 C904.55 748.53 905.47 743.03 906.38 735.08 C907.30 727.13 908.28 715.82 909.13 705.73 C909.99 695.64 910.82 684.03 911.52 674.55 C912.22 665.07 912.74 654.83 913.35 648.87 C913.96 642.91 914.51 639.85 915.19 638.78 C915.86 637.71 916.78 640.16 917.39 642.45 C918.00 644.74 918.24 646.27 918.86 652.54 C919.47 658.81 920.32 669.96 921.06 680.05 C921.79 690.14 922.49 703.28 923.26 713.07 C924.02 722.85 924.79 732.02 925.64 738.75 C926.50 745.47 927.32 749.75 928.39 753.42 C929.46 757.09 930.53 758.77 932.06 760.76 C933.59 762.74 935.12 764.12 937.56 765.34 C940.01 766.56 944.29 767.39 946.74 768.09 C949.18 768.80 942.52 769.35 952.24 769.56 C961.96 769.77 996.26 769.41 1005.06 769.38" fill="none" stroke="#3b439f" stroke-width="2.2" stroke-linejoin="round" stroke-linecap="round"/>
<path d="M840.72 768.09 C846.16 768.25 864.56 768.86 873.37 769.01 C882.17 769.16 889.57 768.86 893.54 769.01 C897.52 769.16 896.14 769.93 897.21 769.93 C898.28 769.93 899.05 769.93 899.96 769.01 C900.88 768.09 901.80 767.02 902.71 764.42 C903.63 761.83 904.55 758.31 905.47 753.42 C906.38 748.53 907.30 741.80 908.22 735.08 C909.13 728.35 910.05 720.71 910.97 713.07 C911.89 705.42 912.86 695.49 913.72 689.22 C914.58 682.96 915.43 678.13 916.10 675.47 C916.78 672.81 917.17 672.81 917.75 673.26 C918.34 673.72 918.98 674.95 919.59 678.22 C920.20 681.49 920.72 687.08 921.42 692.89 C922.13 698.70 922.95 706.65 923.81 713.07 C924.66 719.49 925.64 725.60 926.56 731.41 C927.48 737.22 928.39 743.33 929.31 747.92 C930.23 752.50 930.99 756.17 932.06 758.92 C933.13 761.67 934.20 763.05 935.73 764.42 C937.26 765.80 939.40 766.50 941.23 767.18 C943.07 767.85 936.10 768.15 946.74 768.46 C957.37 768.76 995.34 768.92 1005.06 769.01" fill="none" stroke="#d02a1a" stroke-width="2.2" stroke-linejoin="round" stroke-linecap="round"/>
<path d="M912.25 637.50 L901.25 634.30 L901.25 640.70 Z" fill="#000" stroke="none" stroke-width="1"/>
<path d="M913.72 671.25 L902.72 668.05 L902.72 674.45 Z" fill="#000" stroke="none" stroke-width="1"/>
<text x="1071.70" y="570.50" font-size="18.5" fill="#555" stroke="#555" stroke-width="0.45" textLength="91.80" lengthAdjust="spacingAndGlyphs">IFATYSSDK</text>
<text x="1100.00" y="585.50" font-size="10.6" fill="#555" stroke="#555" stroke-width="0.4" textLength="34.40" lengthAdjust="spacingAndGlyphs">ORF2p</text>
<text x="1014.00" y="588.30" font-size="10.2" fill="#111" stroke="#111" stroke-width="0.5" textLength="17.50" lengthAdjust="spacingAndGlyphs">x 10</text>
<text x="1032.90" y="584.70" font-size="5.8" fill="#111" stroke="#111" stroke-width="0.3">3</text>
<line x1="1012.00" y1="593.00" x2="1035.90" y2="593.00" stroke="#111" stroke-width="1.75"/>
<line x1="1035.40" y1="601.10" x2="1035.40" y2="770.50" stroke="#111" stroke-width="1.25"/>
<line x1="1030.90" y1="770.00" x2="1039.90" y2="770.00" stroke="#111" stroke-width="1.1"/>
<line x1="1033.00" y1="761.75" x2="1037.80" y2="761.75" stroke="#111" stroke-width="1.0"/>
<line x1="1033.00" y1="753.49" x2="1037.80" y2="753.49" stroke="#111" stroke-width="1.0"/>
<line x1="1033.00" y1="745.24" x2="1037.80" y2="745.24" stroke="#111" stroke-width="1.0"/>
<line x1="1033.00" y1="736.98" x2="1037.80" y2="736.98" stroke="#111" stroke-width="1.0"/>
<line x1="1030.90" y1="728.73" x2="1039.90" y2="728.73" stroke="#111" stroke-width="1.1"/>
<line x1="1033.00" y1="720.47" x2="1037.80" y2="720.47" stroke="#111" stroke-width="1.0"/>
<line x1="1033.00" y1="712.22" x2="1037.80" y2="712.22" stroke="#111" stroke-width="1.0"/>
<line x1="1033.00" y1="703.96" x2="1037.80" y2="703.96" stroke="#111" stroke-width="1.0"/>
<line x1="1033.00" y1="695.70" x2="1037.80" y2="695.70" stroke="#111" stroke-width="1.0"/>
<line x1="1030.90" y1="687.45" x2="1039.90" y2="687.45" stroke="#111" stroke-width="1.1"/>
<line x1="1033.00" y1="679.19" x2="1037.80" y2="679.19" stroke="#111" stroke-width="1.0"/>
<line x1="1033.00" y1="670.94" x2="1037.80" y2="670.94" stroke="#111" stroke-width="1.0"/>
<line x1="1033.00" y1="662.68" x2="1037.80" y2="662.68" stroke="#111" stroke-width="1.0"/>
<line x1="1033.00" y1="654.43" x2="1037.80" y2="654.43" stroke="#111" stroke-width="1.0"/>
<line x1="1030.90" y1="646.17" x2="1039.90" y2="646.17" stroke="#111" stroke-width="1.1"/>
<line x1="1033.00" y1="637.92" x2="1037.80" y2="637.92" stroke="#111" stroke-width="1.0"/>
<line x1="1033.00" y1="629.66" x2="1037.80" y2="629.66" stroke="#111" stroke-width="1.0"/>
<line x1="1033.00" y1="621.41" x2="1037.80" y2="621.41" stroke="#111" stroke-width="1.0"/>
<line x1="1033.00" y1="613.15" x2="1037.80" y2="613.15" stroke="#111" stroke-width="1.0"/>
<line x1="1030.90" y1="604.90" x2="1039.90" y2="604.90" stroke="#111" stroke-width="1.1"/>
<text x="1027.20" y="774.70" font-size="10.3" fill="#111" stroke="#111" stroke-width="0.4" text-anchor="end" textLength="5.15" lengthAdjust="spacingAndGlyphs">0</text>
<text x="1027.20" y="733.43" font-size="10.3" fill="#111" stroke="#111" stroke-width="0.4" text-anchor="end" textLength="15.46" lengthAdjust="spacingAndGlyphs">100</text>
<text x="1027.20" y="692.15" font-size="10.3" fill="#111" stroke="#111" stroke-width="0.4" text-anchor="end" textLength="15.46" lengthAdjust="spacingAndGlyphs">200</text>
<text x="1027.20" y="650.88" font-size="10.3" fill="#111" stroke="#111" stroke-width="0.4" text-anchor="end" textLength="15.46" lengthAdjust="spacingAndGlyphs">300</text>
<text x="1027.20" y="609.60" font-size="10.3" fill="#111" stroke="#111" stroke-width="0.4" text-anchor="end" textLength="15.46" lengthAdjust="spacingAndGlyphs">400</text>
<line x1="1034.80" y1="770.00" x2="1200.00" y2="770.00" stroke="#111" stroke-width="1.3"/>
<line x1="1039.96" y1="769.00" x2="1039.96" y2="772.60" stroke="#111" stroke-width="1.1"/>
<line x1="1051.54" y1="769.00" x2="1051.54" y2="772.60" stroke="#111" stroke-width="1.1"/>
<line x1="1063.12" y1="769.00" x2="1063.12" y2="772.60" stroke="#111" stroke-width="1.1"/>
<line x1="1074.70" y1="766.00" x2="1074.70" y2="774.40" stroke="#111" stroke-width="1.2"/>
<line x1="1086.28" y1="769.00" x2="1086.28" y2="772.60" stroke="#111" stroke-width="1.1"/>
<line x1="1097.86" y1="769.00" x2="1097.86" y2="772.60" stroke="#111" stroke-width="1.1"/>
<line x1="1109.44" y1="769.00" x2="1109.44" y2="772.60" stroke="#111" stroke-width="1.1"/>
<line x1="1121.02" y1="769.00" x2="1121.02" y2="772.60" stroke="#111" stroke-width="1.1"/>
<line x1="1132.60" y1="766.00" x2="1132.60" y2="774.40" stroke="#111" stroke-width="1.2"/>
<line x1="1144.18" y1="769.00" x2="1144.18" y2="772.60" stroke="#111" stroke-width="1.1"/>
<line x1="1155.76" y1="769.00" x2="1155.76" y2="772.60" stroke="#111" stroke-width="1.1"/>
<line x1="1167.34" y1="769.00" x2="1167.34" y2="772.60" stroke="#111" stroke-width="1.1"/>
<line x1="1178.92" y1="769.00" x2="1178.92" y2="772.60" stroke="#111" stroke-width="1.1"/>
<line x1="1190.50" y1="766.00" x2="1190.50" y2="774.40" stroke="#111" stroke-width="1.2"/>
<text x="1074.70" y="785.00" font-size="9.8" fill="#111" stroke="#111" stroke-width="0.45" text-anchor="middle">39.0</text>
<text x="1132.70" y="785.00" font-size="9.8" fill="#111" stroke="#111" stroke-width="0.45" text-anchor="middle">39.5</text>
<text x="1190.50" y="785.00" font-size="9.8" fill="#111" stroke="#111" stroke-width="0.45" text-anchor="middle">40.0</text>
<line x1="1101.34" y1="629.61" x2="1101.34" y2="760.76" stroke="#222" stroke-width="1.6" stroke-dasharray="8.2 4.3"/>
<line x1="1101.34" y1="760.76" x2="1101.34" y2="770.00" stroke="#222" stroke-width="1.2"/>
<line x1="1144.99" y1="629.61" x2="1144.99" y2="760.76" stroke="#222" stroke-width="1.6" stroke-dasharray="8.2 4.3"/>
<line x1="1144.99" y1="760.76" x2="1144.99" y2="770.00" stroke="#222" stroke-width="1.2"/>
<path d="M1034.94 769.01 C1045.48 769.01 1086.91 769.01 1098.22 769.01 C1109.53 769.01 1101.58 769.77 1102.80 769.01 C1104.03 768.25 1104.64 769.47 1105.55 764.42 C1106.47 759.38 1107.39 749.75 1108.31 738.75 C1109.22 727.74 1110.14 711.23 1111.06 698.39 C1111.97 685.55 1112.89 672.10 1113.81 661.71 C1114.72 651.32 1115.79 641.23 1116.56 636.03 C1117.32 630.83 1117.72 629.92 1118.39 630.53 C1119.07 631.14 1119.92 634.50 1120.59 639.70 C1121.27 644.90 1121.73 652.54 1122.43 661.71 C1123.13 670.88 1123.96 684.64 1124.81 694.72 C1125.67 704.81 1126.49 713.68 1127.56 722.24 C1128.63 730.80 1129.86 739.97 1131.23 746.08 C1132.61 752.20 1133.98 755.86 1135.82 758.92 C1137.65 761.98 1139.94 763.05 1142.24 764.42 C1144.53 765.80 1145.91 766.56 1149.57 767.18 C1153.24 767.79 1155.84 767.88 1164.25 768.09 C1172.65 768.31 1194.05 768.40 1200.01 768.46" fill="none" stroke="#3b439f" stroke-width="2.2" stroke-linejoin="round" stroke-linecap="round"/>
<path d="M1034.94 769.01 C1045.79 769.07 1087.98 769.38 1100.05 769.38 C1112.13 769.38 1105.55 769.53 1107.39 769.01 C1109.22 768.49 1109.83 767.48 1111.06 766.26 C1112.28 765.04 1113.50 762.80 1114.72 761.67 C1115.95 760.54 1117.17 759.47 1118.39 759.47 C1119.62 759.47 1120.84 760.54 1122.06 761.67 C1123.28 762.80 1124.51 765.04 1125.73 766.26 C1126.95 767.48 1127.56 768.49 1129.40 769.01 C1131.23 769.53 1124.97 769.38 1136.74 769.38 C1148.50 769.38 1189.47 769.07 1200.01 769.01" fill="none" stroke="#d02a1a" stroke-width="2.2" stroke-linejoin="round" stroke-linecap="round"/>
<path d="M1115.09 628.69 L1104.09 625.49 L1104.09 631.89 Z" fill="#000" stroke="none" stroke-width="1"/>
<path d="M1116.56 758.55 L1105.56 755.35 L1105.56 761.75 Z" fill="#000" stroke="none" stroke-width="1"/>
<rect x="113.60" y="819.60" width="548.00" height="58.60" fill="none" stroke="#222" stroke-width="1.3" rx="0"/>
<text x="122.80" y="839.00" font-size="15.3" fill="#111" stroke="#111" stroke-width="0.3" textLength="127.20" lengthAdjust="spacingAndGlyphs">x-axis: Time in min</text>
<text x="122.80" y="858.90" font-size="15.3" fill="#111" stroke="#111" stroke-width="0.3" textLength="208.90" lengthAdjust="spacingAndGlyphs">y-axis: MS intensity (A.U.) x 10</text>
<text x="332.00" y="851.80" font-size="9.0" fill="#111" stroke="#111" stroke-width="0.3">N</text>
<line x1="303.20" y1="861.90" x2="331.70" y2="861.90" stroke="#111" stroke-width="1.1"/>
<line x1="441.60" y1="834.00" x2="485.00" y2="834.00" stroke="#111" stroke-width="3.0"/>
<line x1="489.60" y1="834.00" x2="518.40" y2="834.00" stroke="#111" stroke-width="2.8" stroke-dasharray="3 3"/>
<text x="531.00" y="841.00" font-size="15.3" fill="#111" stroke="#111" stroke-width="0.3" textLength="122.60" lengthAdjust="spacingAndGlyphs">Selection Window</text>
<text x="533.60" y="864.00" font-size="15.3" fill="#111" stroke="#111" stroke-width="0.3" textLength="81.40" lengthAdjust="spacingAndGlyphs">Peak Signal</text>
<path d="M464.2 860.2 L480.2 865.6 L464.2 870.8 Z" fill="#111" stroke="none" stroke-width="1"/>
<text x="0.30" y="938.30" font-size="25" fill="#000" stroke="#000" stroke-width="0.3" font-weight="bold" textLength="16.00" lengthAdjust="spacingAndGlyphs">D</text>
<line x1="27.30" y1="955.00" x2="762.70" y2="955.00" stroke="#d6d6d6" stroke-width="1.2"/>
<line x1="27.30" y1="979.30" x2="762.70" y2="979.30" stroke="#d6d6d6" stroke-width="1.2"/>
<line x1="27.30" y1="1001.00" x2="762.70" y2="1001.00" stroke="#d6d6d6" stroke-width="1.2"/>
<line x1="27.30" y1="1023.30" x2="762.70" y2="1023.30" stroke="#d6d6d6" stroke-width="1.2"/>
<line x1="27.30" y1="1045.70" x2="762.70" y2="1045.70" stroke="#d6d6d6" stroke-width="1.2"/>
<line x1="27.30" y1="1067.70" x2="762.70" y2="1067.70" stroke="#d6d6d6" stroke-width="1.2"/>
<line x1="27.30" y1="1090.00" x2="762.70" y2="1090.00" stroke="#d6d6d6" stroke-width="1.2"/>
<line x1="27.30" y1="1112.30" x2="762.70" y2="1112.30" stroke="#d6d6d6" stroke-width="1.2"/>
<line x1="27.30" y1="1134.30" x2="762.70" y2="1134.30" stroke="#d6d6d6" stroke-width="1.2"/>
<line x1="27.30" y1="1156.70" x2="762.70" y2="1156.70" stroke="#d6d6d6" stroke-width="1.2"/>
<line x1="27.30" y1="1179.00" x2="762.70" y2="1179.00" stroke="#d6d6d6" stroke-width="1.2"/>
<line x1="27.30" y1="955.00" x2="27.30" y2="1179.00" stroke="#d6d6d6" stroke-width="1.4"/>
<line x1="170.00" y1="955.00" x2="170.00" y2="1179.00" stroke="#d6d6d6" stroke-width="1.4"/>
<line x1="308.30" y1="979.30" x2="308.30" y2="1179.00" stroke="#d6d6d6" stroke-width="1.4"/>
<line x1="466.70" y1="955.00" x2="466.70" y2="1179.00" stroke="#d6d6d6" stroke-width="1.4"/>
<line x1="605.00" y1="979.30" x2="605.00" y2="1179.00" stroke="#d6d6d6" stroke-width="1.4"/>
<line x1="762.70" y1="955.00" x2="762.70" y2="1179.00" stroke="#d6d6d6" stroke-width="1.4"/>
<line x1="27.30" y1="979.30" x2="762.70" y2="979.30" stroke="#111" stroke-width="1.5"/>
<line x1="27.30" y1="1001.00" x2="762.70" y2="1001.00" stroke="#111" stroke-width="1.5"/>
<line x1="27.30" y1="1090.00" x2="762.70" y2="1090.00" stroke="#111" stroke-width="1.5"/>
<line x1="27.30" y1="1112.30" x2="762.70" y2="1112.30" stroke="#111" stroke-width="1.5"/>
<line x1="27.30" y1="1156.70" x2="762.70" y2="1156.70" stroke="#111" stroke-width="1.5"/>
<line x1="170.00" y1="954.40" x2="170.00" y2="1179.60" stroke="#111" stroke-width="1.6"/>
<line x1="466.70" y1="954.40" x2="466.70" y2="1179.60" stroke="#111" stroke-width="1.6"/>
<text x="301.70" y="975.00" font-size="15.5" fill="#111" stroke="#111" stroke-width="0.3" font-weight="bold" textLength="34.30" lengthAdjust="spacingAndGlyphs">SRM</text>
<text x="597.30" y="975.00" font-size="15.5" fill="#111" stroke="#111" stroke-width="0.3" font-weight="bold" textLength="36.00" lengthAdjust="spacingAndGlyphs">PRM</text>
<text x="31.00" y="996.70" font-size="14.2" fill="#111" stroke="#111" stroke-width="0.3" font-weight="bold" textLength="54.00" lengthAdjust="spacingAndGlyphs">Peptide</text>
<text x="173.30" y="996.70" font-size="14.2" fill="#111" stroke="#111" stroke-width="0.3" font-weight="bold" textLength="120.00" lengthAdjust="spacingAndGlyphs">IP - fmol injected</text>
<text x="311.70" y="996.70" font-size="14.2" fill="#111" stroke="#111" stroke-width="0.3" font-weight="bold" textLength="151.00" lengthAdjust="spacingAndGlyphs">Lysate - fmol injected</text>
<text x="469.30" y="996.70" font-size="14.2" fill="#111" stroke="#111" stroke-width="0.3" font-weight="bold" textLength="120.70" lengthAdjust="spacingAndGlyphs">IP - fmol injected</text>
<text x="608.30" y="996.70" font-size="14.2" fill="#111" stroke="#111" stroke-width="0.3" font-weight="bold" textLength="151.70" lengthAdjust="spacingAndGlyphs">Lysate - fmol injected</text>
<text x="31.00" y="1019.30" font-size="14.2" fill="#111" stroke="#111" stroke-width="0.3" textLength="115.70" lengthAdjust="spacingAndGlyphs">NLEECITR (ORF1p)</text>
<text x="200.00" y="1019.30" font-size="14.2" fill="#111" stroke="#111" stroke-width="0.3" textLength="78.30" lengthAdjust="spacingAndGlyphs">17.26 ± 7.75</text>
<text x="373.30" y="1019.30" font-size="14.2" fill="#111" stroke="#111" stroke-width="0.3" textLength="28.40" lengthAdjust="spacingAndGlyphs">3.02</text>
<text x="498.30" y="1019.30" font-size="14.2" fill="#111" stroke="#111" stroke-width="0.3" textLength="71.00" lengthAdjust="spacingAndGlyphs">8.15 ± 1.17</text>
<text x="652.70" y="1019.30" font-size="14.2" fill="#111" stroke="#111" stroke-width="0.3" textLength="70.60" lengthAdjust="spacingAndGlyphs">1.56 ± 0.01</text>
<text x="31.00" y="1041.70" font-size="14.2" fill="#111" stroke="#111" stroke-width="0.3" textLength="125.70" lengthAdjust="spacingAndGlyphs">LSFISEGEIK (ORF1p)</text>
<text x="200.00" y="1041.70" font-size="14.2" fill="#111" stroke="#111" stroke-width="0.3" textLength="78.30" lengthAdjust="spacingAndGlyphs">21.46 ± 2.26</text>
<text x="374.00" y="1041.70" font-size="14.2" fill="#111" stroke="#111" stroke-width="0.3" textLength="27.70" lengthAdjust="spacingAndGlyphs">7.21</text>
<text x="495.00" y="1041.70" font-size="14.2" fill="#111" stroke="#111" stroke-width="0.3" textLength="78.30" lengthAdjust="spacingAndGlyphs">19.15 ± 1.28</text>
<text x="652.70" y="1041.70" font-size="14.2" fill="#111" stroke="#111" stroke-width="0.3" textLength="71.30" lengthAdjust="spacingAndGlyphs">2.11 ± 0.15</text>
<text x="31.00" y="1064.00" font-size="14.2" fill="#111" stroke="#111" stroke-width="0.3" textLength="124.00" lengthAdjust="spacingAndGlyphs">QVLSDLQR (ORF2p)</text>
<text x="193.30" y="1064.00" font-size="14.2" fill="#111" stroke="#111" stroke-width="0.3" textLength="87.70" lengthAdjust="spacingAndGlyphs">0.088 ± 0.037</text>
<text x="387.50" y="1064.00" font-size="14.2" fill="#111" stroke="#111" stroke-width="0.3" text-anchor="middle">-</text>
<text x="490.00" y="1064.00" font-size="14.2" fill="#111" stroke="#111" stroke-width="0.3" textLength="87.70" lengthAdjust="spacingAndGlyphs">0.138 ± 0.013</text>
<text x="684.00" y="1064.00" font-size="14.2" fill="#111" stroke="#111" stroke-width="0.3" text-anchor="middle">-</text>
<text x="31.00" y="1086.00" font-size="14.2" fill="#111" stroke="#111" stroke-width="0.3" textLength="124.00" lengthAdjust="spacingAndGlyphs">IFATYSSDK (ORF2p)</text>
<text x="195.00" y="1086.00" font-size="14.2" fill="#111" stroke="#111" stroke-width="0.3" textLength="87.70" lengthAdjust="spacingAndGlyphs">0.051 ± 0.017</text>
<text x="387.50" y="1086.00" font-size="14.2" fill="#111" stroke="#111" stroke-width="0.3" text-anchor="middle">-</text>
<text x="490.00" y="1086.00" font-size="14.2" fill="#111" stroke="#111" stroke-width="0.3" textLength="87.70" lengthAdjust="spacingAndGlyphs">0.011 ± 0.001</text>
<text x="684.00" y="1086.00" font-size="14.2" fill="#111" stroke="#111" stroke-width="0.3" text-anchor="middle">-</text>
<text x="31.00" y="1108.30" font-size="14.2" fill="#111" stroke="#111" stroke-width="0.3" font-weight="bold" textLength="50.70" lengthAdjust="spacingAndGlyphs">Protein</text>
<text x="175.70" y="1108.30" font-size="14.2" fill="#111" stroke="#111" stroke-width="0.3" font-weight="bold" textLength="127.60" lengthAdjust="spacingAndGlyphs">Avg. fmol injected</text>
<text x="323.30" y="1108.30" font-size="14.2" fill="#111" stroke="#111" stroke-width="0.3" font-weight="bold" textLength="128.40" lengthAdjust="spacingAndGlyphs">Avg. fmol injected</text>
<text x="471.70" y="1108.30" font-size="14.2" fill="#111" stroke="#111" stroke-width="0.3" font-weight="bold" textLength="128.30" lengthAdjust="spacingAndGlyphs">Avg. fmol injected</text>
<text x="620.00" y="1108.30" font-size="14.2" fill="#111" stroke="#111" stroke-width="0.3" font-weight="bold" textLength="128.30" lengthAdjust="spacingAndGlyphs">Avg. fmol injected</text>
<text x="31.00" y="1130.70" font-size="14.2" fill="#111" stroke="#111" stroke-width="0.3" textLength="43.00" lengthAdjust="spacingAndGlyphs">ORF1p</text>
<text x="221.00" y="1130.70" font-size="14.2" fill="#111" stroke="#111" stroke-width="0.3" textLength="36.70" lengthAdjust="spacingAndGlyphs">19.34</text>
<text x="374.00" y="1130.70" font-size="14.2" fill="#111" stroke="#111" stroke-width="0.3" textLength="27.00" lengthAdjust="spacingAndGlyphs">5.11</text>
<text x="516.70" y="1130.70" font-size="14.2" fill="#111" stroke="#111" stroke-width="0.3" textLength="35.00" lengthAdjust="spacingAndGlyphs">13.65</text>
<text x="670.70" y="1130.70" font-size="14.2" fill="#111" stroke="#111" stroke-width="0.3" textLength="27.00" lengthAdjust="spacingAndGlyphs">1.83</text>
<text x="31.00" y="1152.70" font-size="14.2" fill="#111" stroke="#111" stroke-width="0.3" textLength="43.00" lengthAdjust="spacingAndGlyphs">ORF2p</text>
<text x="221.00" y="1152.70" font-size="14.2" fill="#111" stroke="#111" stroke-width="0.3" textLength="36.30" lengthAdjust="spacingAndGlyphs">0.069</text>
<text x="387.50" y="1152.70" font-size="14.2" fill="#111" stroke="#111" stroke-width="0.3" text-anchor="middle">-</text>
<text x="516.70" y="1152.70" font-size="14.2" fill="#111" stroke="#111" stroke-width="0.3" textLength="35.00" lengthAdjust="spacingAndGlyphs">0.074</text>
<text x="684.00" y="1152.70" font-size="14.2" fill="#111" stroke="#111" stroke-width="0.3" text-anchor="middle">-</text>
<text x="31.00" y="1175.00" font-size="14.2" fill="#111" stroke="#111" stroke-width="0.3" font-weight="bold" textLength="106.70" lengthAdjust="spacingAndGlyphs">ORF1p/2p ratio</text>
<text x="227.30" y="1175.00" font-size="14.2" fill="#111" stroke="#111" stroke-width="0.3" textLength="24.40" lengthAdjust="spacingAndGlyphs">279</text>
<text x="387.50" y="1175.00" font-size="14.2" fill="#111" stroke="#111" stroke-width="0.3" text-anchor="middle">-</text>
<text x="522.70" y="1175.00" font-size="14.2" fill="#111" stroke="#111" stroke-width="0.3" textLength="23.00" lengthAdjust="spacingAndGlyphs">184</text>
<text x="800.30" y="859.00" font-size="25" fill="#000" stroke="#000" stroke-width="0.3" font-weight="bold" textLength="15.50" lengthAdjust="spacingAndGlyphs">E</text>
<line x1="894.40" y1="857.00" x2="894.40" y2="983.75" stroke="#111" stroke-width="1.4"/>
<line x1="893.70" y1="983.75" x2="1095.00" y2="983.75" stroke="#111" stroke-width="1.4"/>
<line x1="890.20" y1="983.75" x2="894.40" y2="983.75" stroke="#111" stroke-width="1.3"/>
<text x="887.30" y="987.75" font-size="11.1" fill="#111" stroke="#111" stroke-width="0.4" text-anchor="end">0</text>
<line x1="890.20" y1="952.19" x2="894.40" y2="952.19" stroke="#111" stroke-width="1.3"/>
<text x="887.30" y="956.19" font-size="11.1" fill="#111" stroke="#111" stroke-width="0.4" text-anchor="end">50</text>
<line x1="890.20" y1="920.62" x2="894.40" y2="920.62" stroke="#111" stroke-width="1.3"/>
<text x="887.30" y="924.62" font-size="11.1" fill="#111" stroke="#111" stroke-width="0.4" text-anchor="end">100</text>
<line x1="890.20" y1="889.06" x2="894.40" y2="889.06" stroke="#111" stroke-width="1.3"/>
<text x="887.30" y="893.06" font-size="11.1" fill="#111" stroke="#111" stroke-width="0.4" text-anchor="end">150</text>
<line x1="890.20" y1="857.50" x2="894.40" y2="857.50" stroke="#111" stroke-width="1.3"/>
<text x="887.30" y="861.50" font-size="11.1" fill="#111" stroke="#111" stroke-width="0.4" text-anchor="end">200</text>
<line x1="909.00" y1="983.75" x2="909.00" y2="990.75" stroke="#111" stroke-width="1.3"/>
<line x1="930.20" y1="983.75" x2="930.20" y2="990.75" stroke="#111" stroke-width="1.3"/>
<line x1="951.80" y1="983.75" x2="951.80" y2="990.75" stroke="#111" stroke-width="1.3"/>
<line x1="973.20" y1="983.75" x2="973.20" y2="990.75" stroke="#111" stroke-width="1.3"/>
<line x1="1015.60" y1="983.75" x2="1015.60" y2="990.75" stroke="#111" stroke-width="1.3"/>
<line x1="1036.90" y1="983.75" x2="1036.90" y2="990.75" stroke="#111" stroke-width="1.3"/>
<line x1="1058.10" y1="983.75" x2="1058.10" y2="990.75" stroke="#111" stroke-width="1.3"/>
<line x1="1079.60" y1="983.75" x2="1079.60" y2="990.75" stroke="#111" stroke-width="1.3"/>
<line x1="993.00" y1="853.75" x2="993.00" y2="983.75" stroke="#222" stroke-width="1.7" stroke-dasharray="4 2.8"/>
<rect x="902.50" y="920.62" width="13.10" height="63.12" fill="#dcdcdc" stroke="#111" stroke-width="1.2" rx="0"/>
<rect x="923.50" y="893.04" width="13.40" height="90.71" fill="#dcdcdc" stroke="#111" stroke-width="1.2" rx="0"/>
<rect x="945.40" y="961.97" width="12.70" height="21.78" fill="#dcdcdc" stroke="#111" stroke-width="1.2" rx="0"/>
<rect x="966.60" y="963.74" width="13.15" height="20.01" fill="#dcdcdc" stroke="#111" stroke-width="1.2" rx="0"/>
<rect x="1009.40" y="920.62" width="13.35" height="63.12" fill="#dcdcdc" stroke="#111" stroke-width="1.2" rx="0"/>
<rect x="1030.40" y="875.55" width="13.60" height="108.20" fill="#dcdcdc" stroke="#111" stroke-width="1.2" rx="0"/>
<rect x="1051.60" y="960.58" width="13.65" height="23.17" fill="#dcdcdc" stroke="#111" stroke-width="1.2" rx="0"/>
<rect x="1073.40" y="963.99" width="13.10" height="19.76" fill="#dcdcdc" stroke="#111" stroke-width="1.2" rx="0"/>
<line x1="909.00" y1="908.75" x2="909.00" y2="933.75" stroke="#111" stroke-width="1.2"/>
<line x1="906.00" y1="908.75" x2="912.00" y2="908.75" stroke="#111" stroke-width="1.2"/>
<line x1="906.00" y1="933.75" x2="912.00" y2="933.75" stroke="#111" stroke-width="1.2"/>
<line x1="930.20" y1="888.10" x2="930.20" y2="896.90" stroke="#111" stroke-width="1.2"/>
<line x1="927.20" y1="888.10" x2="933.20" y2="888.10" stroke="#111" stroke-width="1.2"/>
<line x1="927.20" y1="896.90" x2="933.20" y2="896.90" stroke="#111" stroke-width="1.2"/>
<circle cx="908.90" cy="912.25" r="3.7" fill="#a0a0a0" stroke="#1a1a1a" stroke-width="1.2"/>
<circle cx="908.90" cy="930.25" r="3.7" fill="#a0a0a0" stroke="#1a1a1a" stroke-width="1.2"/>
<circle cx="927.25" cy="895.60" r="3.7" fill="#a0a0a0" stroke="#1a1a1a" stroke-width="1.2"/>
<circle cx="934.00" cy="889.40" r="3.7" fill="#a0a0a0" stroke="#1a1a1a" stroke-width="1.2"/>
<circle cx="948.50" cy="961.50" r="3.7" fill="#a0a0a0" stroke="#1a1a1a" stroke-width="1.2"/>
<circle cx="955.00" cy="960.00" r="3.7" fill="#a0a0a0" stroke="#1a1a1a" stroke-width="1.2"/>
<circle cx="969.75" cy="963.10" r="3.7" fill="#a0a0a0" stroke="#1a1a1a" stroke-width="1.2"/>
<circle cx="976.50" cy="961.00" r="3.7" fill="#a0a0a0" stroke="#1a1a1a" stroke-width="1.2"/>
<circle cx="1015.60" cy="916.90" r="3.7" fill="#a0a0a0" stroke="#1a1a1a" stroke-width="1.2"/>
<circle cx="1015.60" cy="925.60" r="3.7" fill="#a0a0a0" stroke="#1a1a1a" stroke-width="1.2"/>
<circle cx="1037.00" cy="868.75" r="3.7" fill="#a0a0a0" stroke="#1a1a1a" stroke-width="1.2"/>
<circle cx="1037.00" cy="881.50" r="3.7" fill="#a0a0a0" stroke="#1a1a1a" stroke-width="1.2"/>
<circle cx="1055.00" cy="959.75" r="3.7" fill="#a0a0a0" stroke="#1a1a1a" stroke-width="1.2"/>
<circle cx="1061.90" cy="958.75" r="3.7" fill="#a0a0a0" stroke="#1a1a1a" stroke-width="1.2"/>
<circle cx="1076.50" cy="962.50" r="3.7" fill="#a0a0a0" stroke="#1a1a1a" stroke-width="1.2"/>
<circle cx="1083.10" cy="962.10" r="3.7" fill="#a0a0a0" stroke="#1a1a1a" stroke-width="1.2"/>
<text x="911.90" y="857.75" font-size="12" fill="#111" stroke="#111" stroke-width="0.4" textLength="59.35" lengthAdjust="spacingAndGlyphs">NLEECITR</text>
<text x="1011.90" y="857.75" font-size="12" fill="#111" stroke="#111" stroke-width="0.4" textLength="70.00" lengthAdjust="spacingAndGlyphs">LSFISEGEIK</text>
<text x="856.60" y="924.20" font-size="15.2" fill="#111" stroke="#111" stroke-width="0.3" text-anchor="middle" textLength="101.6" lengthAdjust="spacingAndGlyphs" transform="rotate(-90 856.60 924.20)">% relative to&#160; WT</text>
<line x1="894.10" y1="1012.60" x2="894.10" y2="1141.90" stroke="#111" stroke-width="1.4"/>
<line x1="893.40" y1="1141.90" x2="1096.40" y2="1141.90" stroke="#111" stroke-width="1.4"/>
<line x1="889.90" y1="1141.90" x2="894.10" y2="1141.90" stroke="#111" stroke-width="1.3"/>
<text x="886.80" y="1145.90" font-size="11.1" fill="#111" stroke="#111" stroke-width="0.4" text-anchor="end">0</text>
<line x1="889.90" y1="1109.70" x2="894.10" y2="1109.70" stroke="#111" stroke-width="1.3"/>
<text x="886.80" y="1113.70" font-size="11.1" fill="#111" stroke="#111" stroke-width="0.4" text-anchor="end">50</text>
<line x1="889.90" y1="1077.50" x2="894.10" y2="1077.50" stroke="#111" stroke-width="1.3"/>
<text x="886.80" y="1081.50" font-size="11.1" fill="#111" stroke="#111" stroke-width="0.4" text-anchor="end">100</text>
<line x1="889.90" y1="1045.30" x2="894.10" y2="1045.30" stroke="#111" stroke-width="1.3"/>
<text x="886.80" y="1049.30" font-size="11.1" fill="#111" stroke="#111" stroke-width="0.4" text-anchor="end">150</text>
<line x1="889.90" y1="1013.10" x2="894.10" y2="1013.10" stroke="#111" stroke-width="1.3"/>
<text x="886.80" y="1017.10" font-size="11.1" fill="#111" stroke="#111" stroke-width="0.4" text-anchor="end">200</text>
<line x1="907.90" y1="1141.90" x2="907.90" y2="1148.90" stroke="#111" stroke-width="1.3"/>
<line x1="929.50" y1="1141.90" x2="929.50" y2="1148.90" stroke="#111" stroke-width="1.3"/>
<line x1="951.00" y1="1141.90" x2="951.00" y2="1148.90" stroke="#111" stroke-width="1.3"/>
<line x1="972.40" y1="1141.90" x2="972.40" y2="1148.90" stroke="#111" stroke-width="1.3"/>
<line x1="1015.70" y1="1141.90" x2="1015.70" y2="1148.90" stroke="#111" stroke-width="1.3"/>
<line x1="1037.40" y1="1141.90" x2="1037.40" y2="1148.90" stroke="#111" stroke-width="1.3"/>
<line x1="1059.00" y1="1141.90" x2="1059.00" y2="1148.90" stroke="#111" stroke-width="1.3"/>
<line x1="1080.60" y1="1141.90" x2="1080.60" y2="1148.90" stroke="#111" stroke-width="1.3"/>
<line x1="993.00" y1="1011.50" x2="993.00" y2="1141.90" stroke="#222" stroke-width="1.7" stroke-dasharray="4 2.8"/>
<rect x="901.40" y="1077.50" width="14.30" height="64.40" fill="#dcdcdc" stroke="#111" stroke-width="1.2" rx="0"/>
<rect x="923.00" y="1060.18" width="13.70" height="81.72" fill="#dcdcdc" stroke="#111" stroke-width="1.2" rx="0"/>
<rect x="944.50" y="1133.21" width="13.80" height="8.69" fill="#dcdcdc" stroke="#111" stroke-width="1.2" rx="0"/>
<rect x="966.40" y="1132.56" width="13.50" height="9.34" fill="#dcdcdc" stroke="#111" stroke-width="1.2" rx="0"/>
<rect x="1009.20" y="1077.50" width="14.10" height="64.40" fill="#dcdcdc" stroke="#111" stroke-width="1.2" rx="0"/>
<rect x="1030.60" y="1044.78" width="13.80" height="97.12" fill="#dcdcdc" stroke="#111" stroke-width="1.2" rx="0"/>
<line x1="908.50" y1="1072.00" x2="908.50" y2="1084.00" stroke="#111" stroke-width="1.2"/>
<line x1="905.50" y1="1072.00" x2="911.50" y2="1072.00" stroke="#111" stroke-width="1.2"/>
<line x1="905.50" y1="1084.00" x2="911.50" y2="1084.00" stroke="#111" stroke-width="1.2"/>
<line x1="929.90" y1="1058.00" x2="929.90" y2="1063.00" stroke="#111" stroke-width="1.2"/>
<line x1="926.90" y1="1058.00" x2="932.90" y2="1058.00" stroke="#111" stroke-width="1.2"/>
<line x1="926.90" y1="1063.00" x2="932.90" y2="1063.00" stroke="#111" stroke-width="1.2"/>
<circle cx="908.50" cy="1071.30" r="3.7" fill="#a0a0a0" stroke="#1a1a1a" stroke-width="1.2"/>
<circle cx="908.50" cy="1084.60" r="3.7" fill="#a0a0a0" stroke="#1a1a1a" stroke-width="1.2"/>
<circle cx="926.60" cy="1063.50" r="3.7" fill="#a0a0a0" stroke="#1a1a1a" stroke-width="1.2"/>
<circle cx="933.40" cy="1058.30" r="3.7" fill="#a0a0a0" stroke="#1a1a1a" stroke-width="1.2"/>
<circle cx="948.50" cy="1131.70" r="3.7" fill="#a0a0a0" stroke="#1a1a1a" stroke-width="1.2"/>
<circle cx="955.00" cy="1131.70" r="3.7" fill="#a0a0a0" stroke="#1a1a1a" stroke-width="1.2"/>
<circle cx="969.60" cy="1130.90" r="3.7" fill="#a0a0a0" stroke="#1a1a1a" stroke-width="1.2"/>
<circle cx="976.60" cy="1129.70" r="3.7" fill="#a0a0a0" stroke="#1a1a1a" stroke-width="1.2"/>
<circle cx="1015.70" cy="1071.30" r="3.7" fill="#a0a0a0" stroke="#1a1a1a" stroke-width="1.2"/>
<circle cx="1015.70" cy="1084.30" r="3.7" fill="#a0a0a0" stroke="#1a1a1a" stroke-width="1.2"/>
<circle cx="1033.90" cy="1048.00" r="3.7" fill="#a0a0a0" stroke="#1a1a1a" stroke-width="1.2"/>
<circle cx="1040.70" cy="1043.70" r="3.7" fill="#a0a0a0" stroke="#1a1a1a" stroke-width="1.2"/>
<text x="912.30" y="1022.90" font-size="12" fill="#111" stroke="#111" stroke-width="0.4" textLength="68.70" lengthAdjust="spacingAndGlyphs">QVLSDLQR</text>
<text x="1023.30" y="1022.90" font-size="12" fill="#111" stroke="#111" stroke-width="0.4" textLength="67.10" lengthAdjust="spacingAndGlyphs">IFATYSSDK</text>
<text x="853.90" y="1079.90" font-size="15.2" fill="#111" stroke="#111" stroke-width="0.3" text-anchor="middle" textLength="101.2" lengthAdjust="spacingAndGlyphs" transform="rotate(-90 853.90 1079.90)">%relative to&#160; WT</text>
<text x="1052.50" y="1137.40" font-size="9.6" fill="#111" stroke="#111" stroke-width="0.3" textLength="13.80" lengthAdjust="spacingAndGlyphs">ND</text>
<text x="1074.50" y="1137.40" font-size="9.6" fill="#111" stroke="#111" stroke-width="0.3" textLength="14.20" lengthAdjust="spacingAndGlyphs">ND</text>
<text x="911.90" y="1160.90" font-size="12.3" fill="#111" stroke="#111" stroke-width="0.35" text-anchor="end" transform="rotate(-45 911.90 1160.90)">WT</text>
<text x="933.50" y="1160.90" font-size="12.3" fill="#111" stroke="#111" stroke-width="0.35" text-anchor="end" transform="rotate(-45 933.50 1160.90)">Scramble</text>
<text x="955.00" y="1160.90" font-size="12.3" fill="#111" stroke="#111" stroke-width="0.35" text-anchor="end" transform="rotate(-45 955.00 1160.90)">shRNA #1</text>
<text x="976.40" y="1160.90" font-size="12.3" fill="#111" stroke="#111" stroke-width="0.35" text-anchor="end" transform="rotate(-45 976.40 1160.90)">shRNA #2</text>
<text x="1019.70" y="1160.90" font-size="12.3" fill="#111" stroke="#111" stroke-width="0.35" text-anchor="end" transform="rotate(-45 1019.70 1160.90)">WT</text>
<text x="1041.40" y="1160.90" font-size="12.3" fill="#111" stroke="#111" stroke-width="0.35" text-anchor="end" transform="rotate(-45 1041.40 1160.90)">Scramble</text>
<text x="1063.00" y="1160.90" font-size="12.3" fill="#111" stroke="#111" stroke-width="0.35" text-anchor="end" transform="rotate(-45 1063.00 1160.90)">shRNA #1</text>
<text x="1084.60" y="1160.90" font-size="12.3" fill="#111" stroke="#111" stroke-width="0.35" text-anchor="end" transform="rotate(-45 1084.60 1160.90)">shRNA #2</text>
</svg>
</body></html>
